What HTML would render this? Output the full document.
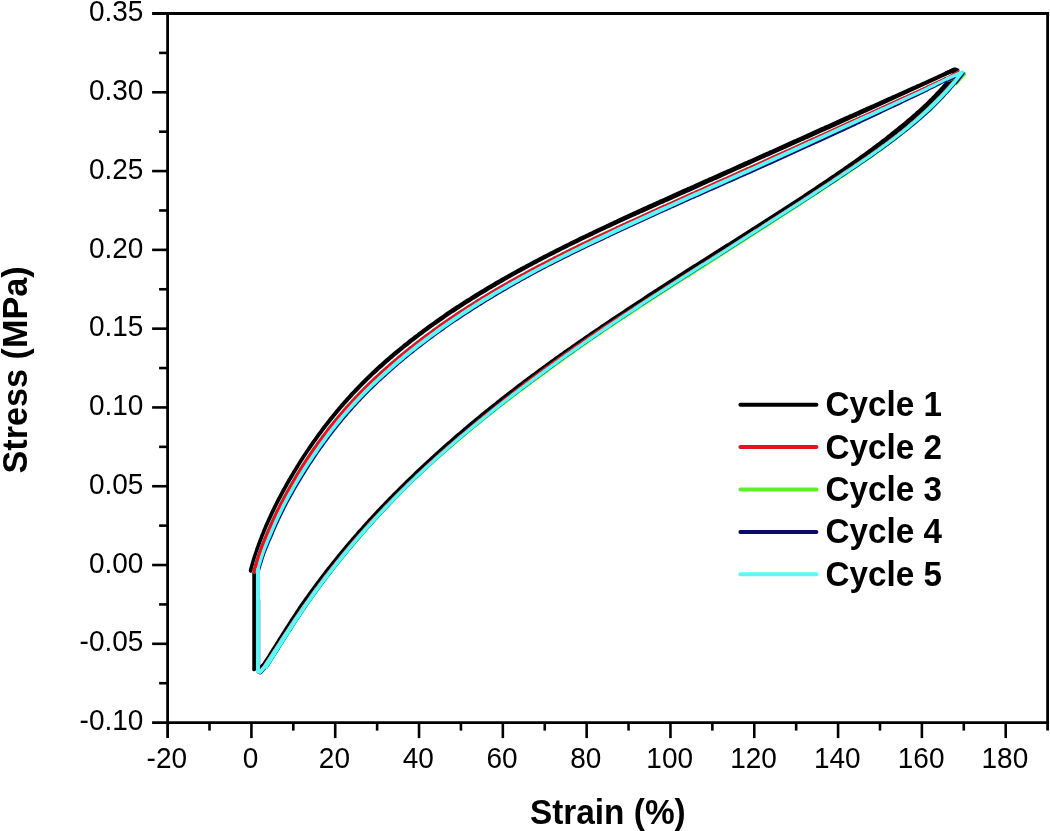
<!DOCTYPE html>
<html lang="en"><head><meta charset="utf-8"><title>Stress-strain cycles</title>
<style>
html,body{margin:0;padding:0;background:#fff;}
body{width:1050px;height:831px;overflow:hidden;}
svg{display:block;filter:blur(0.45px);}
</style></head><body>
<svg width="1050" height="831" viewBox="0 0 1050 831">
<rect width="1050" height="831" fill="#fff"/>
<polygon points="248.6,570.4 249.1,568.7 249.6,566.9 250.1,565.2 250.6,563.5 251.1,561.8 251.6,560.0 252.1,558.3 252.7,556.6 253.2,554.9 253.8,553.2 254.4,551.5 255.0,549.8 255.5,548.1 256.1,546.4 256.7,544.7 257.3,543.0 258.0,541.3 258.6,539.6 259.2,538.0 259.9,536.3 260.5,534.6 261.2,532.9 261.9,531.3 262.5,529.6 263.2,527.9 263.9,526.3 264.6,524.6 265.3,523.0 266.1,521.3 266.8,519.7 267.5,518.0 268.3,516.4 269.0,514.7 269.8,513.1 270.5,511.5 271.3,509.9 272.1,508.2 272.9,506.6 273.7,505.0 274.5,503.4 275.3,501.8 276.1,500.2 276.9,498.6 277.8,497.0 278.6,495.4 279.5,493.8 280.3,492.2 281.2,490.6 282.0,489.0 282.9,487.4 283.8,485.9 284.6,484.3 285.5,482.7 286.4,481.2 287.3,479.6 288.2,478.0 289.1,476.5 290.0,474.9 291.0,473.4 291.9,471.8 292.8,470.3 293.8,468.8 294.7,467.2 295.6,465.7 296.6,464.2 297.6,462.6 298.5,461.1 299.5,459.6 300.5,458.1 301.4,456.6 302.4,455.0 303.4,453.5 304.4,452.0 305.4,450.5 306.4,449.0 307.4,447.5 308.4,446.1 309.4,444.6 310.4,443.1 311.4,441.6 312.5,440.1 313.5,438.7 314.6,437.2 315.6,435.7 316.7,434.3 317.7,432.8 318.8,431.4 319.9,429.9 320.9,428.5 322.0,427.0 323.1,425.6 324.2,424.2 325.3,422.7 326.4,421.3 327.5,419.9 328.6,418.5 329.7,417.1 330.9,415.7 332.0,414.3 333.1,412.9 334.3,411.5 335.4,410.1 336.6,408.7 337.7,407.3 338.9,406.0 340.1,404.6 341.2,403.2 342.4,401.9 343.6,400.5 344.8,399.2 346.0,397.8 347.2,396.5 348.4,395.2 349.6,393.8 350.8,392.5 352.1,391.2 353.3,389.9 354.5,388.6 355.8,387.3 357.0,386.0 358.3,384.7 359.5,383.4 360.8,382.1 362.1,380.8 363.3,379.5 364.6,378.3 365.9,377.0 367.2,375.7 368.5,374.5 369.8,373.2 371.1,372.0 372.4,370.8 373.7,369.5 375.0,368.3 376.4,367.1 377.7,365.8 379.0,364.6 380.4,363.4 381.7,362.2 383.1,361.0 384.4,359.8 385.8,358.6 387.1,357.5 388.5,356.3 389.9,355.1 391.2,353.9 392.6,352.8 394.0,351.6 395.4,350.5 396.8,349.3 398.2,348.2 399.6,347.0 401.0,345.9 402.4,344.7 403.8,343.6 405.2,342.5 406.6,341.4 408.0,340.3 409.4,339.1 410.8,338.0 412.3,336.9 413.7,335.8 415.1,334.7 416.6,333.7 418.0,332.6 419.4,331.5 420.9,330.4 422.3,329.3 423.7,328.3 425.2,327.2 426.6,326.1 428.1,325.1 429.5,324.0 431.0,323.0 432.5,321.9 433.9,320.9 435.4,319.8 436.9,318.8 438.3,317.8 439.8,316.7 441.3,315.7 442.7,314.7 444.2,313.7 445.7,312.6 447.2,311.6 448.7,310.6 450.2,309.6 451.6,308.6 453.1,307.6 454.6,306.6 456.1,305.6 457.6,304.7 459.1,303.7 460.6,302.7 462.1,301.7 463.6,300.8 465.1,299.8 466.7,298.8 468.2,297.9 469.7,296.9 471.2,295.9 472.7,295.0 474.2,294.0 475.8,293.1 477.3,292.2 478.8,291.2 480.3,290.3 481.9,289.4 483.4,288.4 485.0,287.5 486.5,286.6 488.0,285.7 489.6,284.8 491.1,283.9 492.7,283.0 494.2,282.0 495.8,281.1 497.3,280.3 498.9,279.4 500.4,278.5 502.0,277.6 503.5,276.7 505.1,275.8 506.7,274.9 508.2,274.0 509.8,273.2 511.4,272.3 512.9,271.4 514.5,270.6 516.1,269.7 517.6,268.8 519.2,268.0 520.8,267.1 522.4,266.3 524.0,265.4 525.5,264.6 527.1,263.7 528.7,262.9 530.3,262.0 531.9,261.2 533.5,260.3 535.0,259.5 536.6,258.7 538.2,257.8 539.8,257.0 541.4,256.2 543.0,255.3 544.6,254.5 546.2,253.7 547.8,252.9 549.4,252.1 551.0,251.2 552.6,250.4 554.2,249.6 555.8,248.8 557.4,248.0 559.0,247.2 560.6,246.4 562.2,245.6 563.8,244.8 565.4,244.0 567.0,243.2 568.6,242.4 570.2,241.6 571.9,240.8 573.5,240.0 575.1,239.2 576.7,238.4 578.3,237.6 579.9,236.8 581.6,236.0 583.2,235.3 584.8,234.5 586.4,233.7 588.0,232.9 589.7,232.1 591.3,231.4 592.9,230.6 594.5,229.8 596.1,229.0 597.8,228.3 599.4,227.5 601.0,226.7 602.7,226.0 604.3,225.2 605.9,224.4 607.5,223.7 609.2,222.9 610.8,222.1 612.4,221.4 614.0,220.6 615.7,219.9 617.3,219.1 618.9,218.3 620.6,217.6 622.2,216.8 623.8,216.1 625.5,215.3 627.1,214.6 628.7,213.8 630.4,213.1 632.0,212.3 633.6,211.6 635.3,210.8 636.9,210.1 638.5,209.3 640.2,208.6 641.8,207.8 643.4,207.1 645.1,206.3 646.7,205.6 648.4,204.8 650.0,204.1 651.6,203.4 653.3,202.6 654.9,201.9 656.5,201.1 658.2,200.4 659.8,199.6 661.5,198.9 663.1,198.2 664.7,197.4 666.4,196.7 668.0,195.9 669.6,195.2 671.3,194.5 672.9,193.7 674.5,193.0 676.2,192.3 677.8,191.5 679.5,190.8 681.1,190.0 682.7,189.3 684.4,188.6 686.0,187.9 687.7,187.1 689.3,186.4 690.9,185.7 692.6,184.9 694.2,184.2 695.8,183.5 697.5,182.7 699.1,182.0 700.8,181.3 702.4,180.6 704.0,179.8 705.7,179.1 707.3,178.4 708.9,177.6 710.6,176.9 712.2,176.2 713.9,175.5 715.5,174.7 717.1,174.0 718.8,173.3 720.4,172.5 722.0,171.8 723.7,171.1 725.3,170.4 727.0,169.6 728.6,168.9 730.2,168.2 731.9,167.4 733.5,166.7 735.1,166.0 736.8,165.2 738.4,164.5 740.0,163.8 741.7,163.1 743.3,162.3 744.9,161.6 746.6,160.9 748.2,160.1 749.8,159.4 751.5,158.7 753.1,158.0 754.8,157.2 756.4,156.5 758.0,155.8 759.7,155.0 761.3,154.3 762.9,153.6 764.6,152.8 766.2,152.1 767.8,151.4 769.4,150.6 771.1,149.9 772.7,149.2 774.3,148.4 776.0,147.7 777.6,147.0 779.2,146.2 780.9,145.5 782.5,144.8 784.1,144.0 785.8,143.3 787.4,142.6 789.0,141.8 790.7,141.1 792.3,140.3 793.9,139.6 795.6,138.9 797.2,138.1 798.8,137.4 800.4,136.7 802.1,135.9 803.7,135.2 805.3,134.5 807.0,133.7 808.6,133.0 810.2,132.3 811.9,131.5 813.5,130.8 815.1,130.0 816.8,129.3 818.4,128.6 820.0,127.8 821.6,127.1 823.3,126.4 824.9,125.6 826.5,124.9 828.2,124.2 829.8,123.4 831.4,122.7 833.1,121.9 834.7,121.2 836.3,120.5 838.0,119.7 839.6,119.0 841.2,118.3 842.9,117.5 844.5,116.8 846.1,116.1 847.8,115.4 849.4,114.6 851.0,113.9 852.7,113.2 854.3,112.4 856.0,111.7 857.6,111.0 859.2,110.3 860.9,109.5 862.5,108.8 864.1,108.1 865.8,107.3 867.4,106.6 869.0,105.9 870.7,105.1 872.3,104.4 874.0,103.7 875.6,103.0 877.2,102.2 878.9,101.5 880.5,100.8 882.1,100.0 883.8,99.3 885.4,98.6 887.0,97.8 888.7,97.1 890.3,96.4 892.0,95.6 893.6,94.9 895.2,94.2 896.9,93.4 898.5,92.7 900.1,92.0 901.8,91.2 903.4,90.5 905.1,89.8 906.7,89.0 908.3,88.3 910.0,87.6 911.6,86.8 913.3,86.1 914.9,85.4 916.5,84.6 918.2,83.9 919.8,83.2 921.4,82.4 923.1,81.7 924.7,80.9 926.4,80.2 928.0,79.5 929.6,78.7 931.3,78.0 932.9,77.2 934.5,76.5 936.2,75.7 937.8,75.0 939.4,74.2 941.1,73.5 942.7,72.7 944.4,72.0 946.0,71.3 947.6,70.5 949.3,69.8 950.9,69.0 952.5,68.3 954.2,67.5 955.9,71.3 954.3,72.1 952.7,72.8 951.0,73.6 949.4,74.3 947.7,75.1 946.1,75.8 944.5,76.6 942.8,77.3 941.2,78.1 939.5,78.8 937.9,79.6 936.3,80.3 934.6,81.0 933.0,81.8 931.4,82.5 929.7,83.3 928.1,84.0 926.5,84.8 924.8,85.5 923.2,86.3 921.5,87.0 919.9,87.7 918.3,88.5 916.6,89.2 915.0,90.0 913.4,90.7 911.8,91.5 910.1,92.2 908.5,93.0 906.9,93.7 905.2,94.5 903.6,95.2 902.0,96.0 900.3,96.7 898.7,97.5 897.1,98.2 895.4,99.0 893.8,99.7 892.2,100.5 890.5,101.2 888.9,102.0 887.3,102.7 885.7,103.5 884.0,104.2 882.4,104.9 880.8,105.7 879.1,106.4 877.5,107.2 875.9,107.9 874.2,108.7 872.6,109.4 871.0,110.2 869.3,110.9 867.7,111.7 866.1,112.4 864.5,113.1 862.8,113.9 861.2,114.6 859.6,115.4 857.9,116.1 856.3,116.9 854.7,117.6 853.0,118.3 851.4,119.1 849.8,119.8 848.2,120.6 846.5,121.3 844.9,122.1 843.3,122.8 841.6,123.5 840.0,124.3 838.4,125.0 836.7,125.7 835.1,126.5 833.5,127.2 831.8,127.9 830.2,128.7 828.6,129.4 826.9,130.1 825.3,130.9 823.7,131.6 822.0,132.3 820.4,133.1 818.8,133.8 817.1,134.5 815.5,135.3 813.9,136.0 812.2,136.7 810.6,137.4 809.0,138.2 807.3,138.9 805.7,139.6 804.1,140.4 802.4,141.1 800.8,141.8 799.2,142.6 797.5,143.3 795.9,144.0 794.3,144.7 792.6,145.5 791.0,146.2 789.4,146.9 787.7,147.7 786.1,148.4 784.5,149.1 782.8,149.9 781.2,150.6 779.6,151.3 777.9,152.0 776.3,152.8 774.7,153.5 773.0,154.2 771.4,155.0 769.8,155.7 768.1,156.4 766.5,157.1 764.8,157.9 763.2,158.6 761.6,159.3 759.9,160.1 758.3,160.8 756.7,161.5 755.0,162.3 753.4,163.0 751.8,163.7 750.2,164.5 748.5,165.2 746.9,165.9 745.3,166.7 743.6,167.4 742.0,168.1 740.4,168.9 738.7,169.6 737.1,170.3 735.5,171.1 733.8,171.8 732.2,172.6 730.6,173.3 728.9,174.0 727.3,174.8 725.7,175.5 724.0,176.2 722.4,177.0 720.8,177.7 719.1,178.4 717.5,179.2 715.8,179.9 714.2,180.6 712.6,181.4 710.9,182.1 709.3,182.8 707.7,183.6 706.0,184.3 704.4,185.0 702.8,185.8 701.1,186.5 699.5,187.2 697.9,188.0 696.2,188.7 694.6,189.5 693.0,190.2 691.3,190.9 689.7,191.7 688.0,192.4 686.4,193.1 684.8,193.9 683.1,194.6 681.5,195.3 679.9,196.1 678.2,196.8 676.6,197.5 674.9,198.3 673.3,199.0 671.7,199.7 670.0,200.4 668.4,201.2 666.7,201.9 665.1,202.6 663.5,203.4 661.8,204.1 660.2,204.8 658.5,205.6 656.9,206.3 655.3,207.0 653.6,207.8 652.0,208.5 650.3,209.2 648.7,210.0 647.1,210.7 645.4,211.4 643.8,212.2 642.1,212.9 640.5,213.6 638.9,214.4 637.2,215.1 635.6,215.9 634.0,216.6 632.3,217.3 630.7,218.1 629.0,218.8 627.4,219.6 625.8,220.3 624.1,221.0 622.5,221.8 620.9,222.5 619.2,223.3 617.6,224.0 616.0,224.8 614.3,225.5 612.7,226.3 611.1,227.0 609.5,227.8 607.8,228.6 606.2,229.3 604.6,230.1 602.9,230.8 601.3,231.6 599.7,232.3 598.1,233.1 596.4,233.9 594.8,234.6 593.2,235.4 591.6,236.2 590.0,237.0 588.3,237.7 586.7,238.5 585.1,239.3 583.5,240.1 581.9,240.8 580.3,241.6 578.7,242.4 577.0,243.2 575.4,244.0 573.8,244.8 572.2,245.6 570.6,246.3 569.0,247.1 567.4,247.9 565.8,248.7 564.2,249.5 562.6,250.3 561.0,251.1 559.4,251.9 557.8,252.7 556.2,253.5 554.6,254.4 553.0,255.2 551.4,256.0 549.8,256.8 548.2,257.6 546.6,258.4 545.0,259.3 543.4,260.1 541.8,260.9 540.3,261.7 538.7,262.6 537.1,263.4 535.5,264.2 533.9,265.1 532.4,265.9 530.8,266.8 529.2,267.6 527.6,268.5 526.1,269.3 524.5,270.2 522.9,271.0 521.4,271.9 519.8,272.7 518.2,273.6 516.7,274.5 515.1,275.3 513.6,276.2 512.0,277.1 510.4,278.0 508.9,278.8 507.3,279.7 505.8,280.6 504.2,281.5 502.7,282.4 501.1,283.3 499.6,284.2 498.1,285.1 496.5,286.0 495.0,286.9 493.4,287.8 491.9,288.7 490.4,289.6 488.8,290.5 487.3,291.4 485.8,292.4 484.3,293.3 482.7,294.2 481.2,295.1 479.7,296.1 478.2,297.0 476.7,297.9 475.1,298.9 473.6,299.8 472.1,300.8 470.6,301.7 469.1,302.7 467.6,303.6 466.1,304.6 464.6,305.5 463.1,306.5 461.6,307.5 460.1,308.4 458.6,309.4 457.1,310.4 455.6,311.4 454.1,312.4 452.6,313.3 451.2,314.3 449.7,315.3 448.2,316.3 446.7,317.3 445.3,318.3 443.8,319.4 442.3,320.4 440.9,321.4 439.4,322.4 437.9,323.4 436.5,324.5 435.0,325.5 433.6,326.5 432.1,327.6 430.7,328.6 429.2,329.7 427.8,330.7 426.3,331.8 424.9,332.8 423.5,333.9 422.0,335.0 420.6,336.0 419.2,337.1 417.8,338.2 416.3,339.3 414.9,340.4 413.5,341.5 412.1,342.6 410.7,343.7 409.3,344.8 407.9,345.9 406.5,347.0 405.1,348.1 403.7,349.3 402.3,350.4 400.9,351.5 399.5,352.7 398.2,353.8 396.8,354.9 395.4,356.1 394.0,357.2 392.7,358.4 391.3,359.6 390.0,360.7 388.6,361.9 387.3,363.1 385.9,364.3 384.6,365.5 383.3,366.7 381.9,367.9 380.6,369.1 379.3,370.3 378.0,371.5 376.7,372.7 375.3,373.9 374.0,375.1 372.7,376.3 371.5,377.6 370.2,378.8 368.9,380.1 367.6,381.3 366.3,382.6 365.1,383.8 363.8,385.1 362.5,386.3 361.3,387.6 360.0,388.9 358.8,390.2 357.6,391.5 356.3,392.7 355.1,394.0 353.9,395.3 352.7,396.7 351.5,398.0 350.3,399.3 349.1,400.6 347.9,401.9 346.7,403.3 345.5,404.6 344.3,405.9 343.2,407.3 342.0,408.6 340.8,410.0 339.7,411.3 338.5,412.7 337.4,414.1 336.2,415.5 335.1,416.8 334.0,418.2 332.9,419.6 331.7,421.0 330.6,422.4 329.5,423.8 328.4,425.2 327.3,426.6 326.2,428.0 325.1,429.4 324.1,430.8 323.0,432.3 321.9,433.7 320.9,435.1 319.8,436.6 318.7,438.0 317.7,439.4 316.7,440.9 315.6,442.3 314.6,443.8 313.6,445.3 312.5,446.7 311.5,448.2 310.5,449.7 309.5,451.1 308.5,452.6 307.5,454.1 306.5,455.6 305.5,457.1 304.6,458.6 303.6,460.1 302.6,461.6 301.7,463.1 300.7,464.6 299.8,466.1 298.8,467.7 297.9,469.2 297.0,470.7 296.0,472.2 295.1,473.8 294.2,475.3 293.3,476.9 292.4,478.4 291.5,479.9 290.6,481.5 289.7,483.0 288.8,484.6 288.0,486.2 287.1,487.7 286.2,489.3 285.4,490.9 284.5,492.4 283.7,494.0 282.8,495.6 282.0,497.2 281.2,498.7 280.4,500.3 279.5,501.9 278.7,503.5 277.9,505.1 277.1,506.7 276.3,508.3 275.5,509.9 274.8,511.5 274.0,513.1 273.2,514.7 272.5,516.3 271.7,518.0 271.0,519.6 270.2,521.2 269.5,522.8 268.8,524.5 268.0,526.1 267.3,527.7 266.6,529.4 265.9,531.0 265.3,532.7 264.6,534.3 263.9,535.9 263.3,537.6 262.6,539.3 262.0,540.9 261.3,542.6 260.7,544.2 260.1,545.9 259.5,547.6 258.9,549.3 258.3,550.9 257.7,552.6 257.1,554.3 256.6,556.0 256.0,557.7 255.5,559.4 255.0,561.1 254.5,562.8 254.0,564.5 253.5,566.2 253.0,567.9 252.5,569.6 252.0,571.3" fill="#000000"/>
<polygon points="954.8,70.6 953.7,72.0 952.5,73.5 951.4,74.9 950.2,76.3 949.0,77.7 947.9,79.1 946.7,80.5 945.5,81.9 944.3,83.2 943.0,84.6 941.8,85.9 940.6,87.3 939.4,88.6 938.1,90.0 936.9,91.3 935.6,92.6 934.3,93.9 933.1,95.3 931.8,96.6 930.5,97.9 929.2,99.1 927.9,100.4 926.6,101.7 925.3,103.0 924.0,104.2 922.6,105.5 921.3,106.7 919.9,108.0 918.6,109.2 917.2,110.4 915.8,111.6 914.5,112.9 913.1,114.1 911.7,115.3 910.3,116.5 908.9,117.7 907.5,118.8 906.1,120.0 904.7,121.2 903.3,122.4 901.9,123.5 900.4,124.7 899.0,125.8 897.6,127.0 896.2,128.2 894.7,129.3 893.3,130.5 891.9,131.6 890.4,132.8 889.0,133.9 887.5,135.1 886.1,136.2 884.6,137.4 883.2,138.5 881.7,139.6 880.2,140.7 878.8,141.9 877.3,143.0 875.8,144.1 874.3,145.2 872.8,146.3 871.4,147.4 869.9,148.5 868.4,149.6 866.9,150.7 865.4,151.8 863.9,152.9 862.4,154.0 860.9,155.1 859.4,156.1 857.9,157.2 856.3,158.3 854.8,159.4 853.3,160.4 851.8,161.5 850.3,162.6 848.8,163.6 847.2,164.7 845.7,165.8 844.2,166.8 842.7,167.9 841.1,169.0 839.6,170.0 838.1,171.1 836.5,172.1 835.0,173.2 833.5,174.2 831.9,175.3 830.4,176.3 828.9,177.3 827.3,178.4 825.8,179.4 824.3,180.5 822.7,181.5 821.2,182.5 819.6,183.6 818.1,184.6 816.6,185.6 815.0,186.7 813.5,187.7 811.9,188.7 810.4,189.7 808.8,190.8 807.3,191.8 805.8,192.8 804.2,193.8 802.7,194.9 801.1,195.9 799.6,196.9 798.0,197.9 796.5,198.9 794.9,200.0 793.4,201.0 791.8,202.0 790.3,203.0 788.7,204.0 787.2,205.0 785.6,206.1 784.1,207.1 782.5,208.1 781.0,209.1 779.4,210.1 777.9,211.1 776.3,212.1 774.8,213.1 773.2,214.1 771.6,215.1 770.1,216.1 768.5,217.1 767.0,218.1 765.4,219.1 763.8,220.1 762.3,221.1 760.7,222.1 759.2,223.1 757.6,224.1 756.0,225.1 754.5,226.0 752.9,227.0 751.3,228.0 749.8,229.0 748.2,230.0 746.7,231.0 745.1,232.0 743.5,233.0 742.0,234.0 740.4,235.0 738.8,235.9 737.3,236.9 735.7,237.9 734.2,238.9 732.6,239.9 731.0,240.9 729.5,241.9 727.9,242.9 726.3,243.8 724.8,244.8 723.2,245.8 721.6,246.8 720.1,247.8 718.5,248.8 717.0,249.8 715.4,250.8 713.8,251.8 712.3,252.7 710.7,253.7 709.1,254.7 707.6,255.7 706.0,256.7 704.5,257.7 702.9,258.7 701.3,259.7 699.8,260.7 698.2,261.7 696.7,262.7 695.1,263.7 693.5,264.6 692.0,265.6 690.4,266.6 688.9,267.6 687.3,268.6 685.7,269.6 684.2,270.6 682.6,271.6 681.1,272.6 679.5,273.6 677.9,274.6 676.4,275.6 674.8,276.6 673.3,277.6 671.7,278.6 670.2,279.6 668.6,280.6 667.0,281.6 665.5,282.6 663.9,283.6 662.4,284.6 660.8,285.6 659.3,286.6 657.7,287.6 656.2,288.6 654.6,289.6 653.0,290.6 651.5,291.6 649.9,292.6 648.4,293.6 646.8,294.6 645.3,295.6 643.7,296.7 642.2,297.7 640.6,298.7 639.1,299.7 637.5,300.7 636.0,301.7 634.4,302.7 632.9,303.7 631.4,304.8 629.8,305.8 628.3,306.8 626.7,307.8 625.2,308.8 623.6,309.9 622.1,310.9 620.5,311.9 619.0,312.9 617.5,314.0 615.9,315.0 614.4,316.0 612.8,317.1 611.3,318.1 609.8,319.1 608.2,320.2 606.7,321.2 605.2,322.2 603.6,323.3 602.1,324.3 600.5,325.3 599.0,326.4 597.5,327.4 595.9,328.5 594.4,329.5 592.9,330.5 591.3,331.6 589.8,332.6 588.3,333.7 586.7,334.7 585.2,335.8 583.7,336.8 582.2,337.9 580.6,338.9 579.1,340.0 577.6,341.1 576.1,342.1 574.5,343.2 573.0,344.2 571.5,345.3 570.0,346.4 568.4,347.4 566.9,348.5 565.4,349.6 563.9,350.6 562.4,351.7 560.9,352.8 559.3,353.8 557.8,354.9 556.3,356.0 554.8,357.1 553.3,358.2 551.8,359.2 550.3,360.3 548.8,361.4 547.3,362.5 545.8,363.6 544.3,364.7 542.8,365.8 541.2,366.9 539.7,368.0 538.3,369.1 536.8,370.2 535.3,371.3 533.8,372.4 532.3,373.5 530.8,374.6 529.3,375.7 527.8,376.8 526.3,377.9 524.8,379.0 523.4,380.1 521.9,381.3 520.4,382.4 518.9,383.5 517.4,384.6 516.0,385.8 514.5,386.9 513.0,388.0 511.6,389.2 510.1,390.3 508.6,391.4 507.1,392.6 505.7,393.7 504.2,394.8 502.8,396.0 501.3,397.1 499.8,398.3 498.4,399.4 496.9,400.6 495.5,401.7 494.0,402.9 492.6,404.0 491.1,405.2 489.7,406.3 488.2,407.5 486.8,408.7 485.3,409.8 483.9,411.0 482.4,412.2 481.0,413.3 479.6,414.5 478.1,415.7 476.7,416.9 475.3,418.1 473.8,419.2 472.4,420.4 471.0,421.6 469.6,422.8 468.1,424.0 466.7,425.2 465.3,426.4 463.9,427.6 462.5,428.8 461.1,430.0 459.7,431.2 458.3,432.4 456.8,433.6 455.4,434.8 454.0,436.0 452.6,437.2 451.2,438.4 449.9,439.7 448.5,440.9 447.1,442.1 445.7,443.3 444.3,444.6 442.9,445.8 441.5,447.0 440.1,448.2 438.8,449.5 437.4,450.7 436.0,452.0 434.6,453.2 433.3,454.4 431.9,455.7 430.5,456.9 429.2,458.2 427.8,459.4 426.4,460.7 425.1,462.0 423.7,463.2 422.4,464.5 421.0,465.8 419.7,467.0 418.3,468.3 417.0,469.6 415.6,470.8 414.3,472.1 413.0,473.4 411.6,474.7 410.3,475.9 409.0,477.2 407.6,478.5 406.3,479.8 405.0,481.1 403.7,482.4 402.3,483.7 401.0,485.0 399.7,486.3 398.4,487.6 397.1,488.9 395.8,490.2 394.5,491.5 393.2,492.8 391.9,494.1 390.6,495.4 389.3,496.8 388.0,498.1 386.7,499.4 385.4,500.7 384.1,502.1 382.9,503.4 381.6,504.7 380.3,506.1 379.0,507.4 377.8,508.8 376.5,510.1 375.2,511.5 374.0,512.8 372.7,514.2 371.4,515.5 370.2,516.9 368.9,518.2 367.7,519.6 366.5,521.0 365.2,522.3 364.0,523.7 362.7,525.1 361.5,526.5 360.3,527.9 359.0,529.2 357.8,530.6 356.6,532.0 355.4,533.4 354.2,534.8 352.9,536.2 351.7,537.6 350.5,539.0 349.3,540.4 348.1,541.8 346.9,543.2 345.7,544.6 344.5,546.0 343.3,547.5 342.1,548.9 341.0,550.3 339.8,551.7 338.6,553.2 337.4,554.6 336.3,556.0 335.1,557.5 333.9,558.9 332.8,560.4 331.6,561.8 330.5,563.3 329.3,564.7 328.2,566.2 327.0,567.6 325.9,569.1 324.7,570.6 323.6,572.0 322.5,573.5 321.3,575.0 320.2,576.4 319.1,577.9 318.0,579.4 316.8,580.9 315.7,582.4 314.6,583.9 313.5,585.4 312.4,586.9 311.3,588.4 310.2,589.9 309.1,591.4 308.0,592.9 307.0,594.4 305.9,595.9 304.8,597.4 303.7,599.0 302.7,600.5 301.6,602.0 300.5,603.6 299.5,605.1 298.4,606.6 297.4,608.2 296.4,609.8 295.3,611.3 294.3,612.9 293.3,614.4 292.3,616.0 291.3,617.6 290.2,619.1 289.2,620.7 288.2,622.3 287.2,623.9 286.2,625.4 285.2,627.0 284.2,628.6 283.2,630.2 282.2,631.7 281.2,633.3 280.2,634.9 279.2,636.5 278.2,638.1 277.3,639.6 276.3,641.2 275.3,642.8 274.3,644.4 273.3,646.0 272.3,647.5 271.3,649.1 270.3,650.7 269.3,652.2 268.4,653.8 267.4,655.4 266.4,656.9 265.4,658.5 264.4,660.1 263.4,661.6 262.4,663.2 261.4,664.7 263.9,666.4 265.0,664.8 266.0,663.3 267.0,661.7 268.0,660.2 269.0,658.6 270.0,657.0 271.0,655.5 272.0,653.9 273.0,652.4 274.0,650.8 275.0,649.2 276.0,647.7 277.0,646.1 278.0,644.5 279.0,643.0 280.1,641.4 281.1,639.9 282.1,638.3 283.1,636.8 284.1,635.2 285.2,633.6 286.2,632.1 287.2,630.5 288.3,629.0 289.3,627.4 290.3,625.9 291.4,624.3 292.4,622.8 293.4,621.2 294.5,619.7 295.5,618.2 296.6,616.6 297.6,615.1 298.7,613.6 299.7,612.0 300.8,610.5 301.9,609.0 302.9,607.5 304.0,605.9 305.0,604.4 306.1,602.9 307.2,601.4 308.2,599.9 309.3,598.4 310.4,596.9 311.5,595.3 312.5,593.8 313.6,592.3 314.7,590.8 315.8,589.4 316.9,587.9 318.0,586.4 319.1,584.9 320.2,583.4 321.3,581.9 322.4,580.5 323.5,579.0 324.7,577.5 325.8,576.1 326.9,574.6 328.0,573.1 329.2,571.7 330.3,570.2 331.5,568.8 332.6,567.3 333.7,565.9 334.9,564.4 336.0,563.0 337.2,561.6 338.4,560.1 339.5,558.7 340.7,557.3 341.9,555.8 343.0,554.4 344.2,553.0 345.4,551.6 346.6,550.2 347.7,548.7 348.9,547.3 350.1,545.9 351.3,544.5 352.5,543.1 353.7,541.7 354.9,540.3 356.1,538.9 357.3,537.6 358.5,536.2 359.7,534.8 361.0,533.4 362.2,532.0 363.4,530.6 364.6,529.3 365.9,527.9 367.1,526.5 368.3,525.2 369.6,523.8 370.8,522.5 372.1,521.1 373.3,519.7 374.5,518.4 375.8,517.0 377.1,515.7 378.3,514.4 379.6,513.0 380.8,511.7 382.1,510.3 383.4,509.0 384.6,507.7 385.9,506.3 387.2,505.0 388.5,503.7 389.8,502.4 391.0,501.1 392.3,499.7 393.6,498.4 394.9,497.1 396.2,495.8 397.5,494.5 398.8,493.2 400.1,491.9 401.4,490.6 402.7,489.3 404.0,488.0 405.3,486.7 406.7,485.4 408.0,484.1 409.3,482.9 410.6,481.6 411.9,480.3 413.3,479.0 414.6,477.8 415.9,476.5 417.3,475.2 418.6,473.9 419.9,472.7 421.3,471.4 422.6,470.2 424.0,468.9 425.3,467.7 426.7,466.4 428.0,465.2 429.4,463.9 430.8,462.7 432.1,461.4 433.5,460.2 434.8,458.9 436.2,457.7 437.6,456.5 439.0,455.2 440.3,454.0 441.7,452.8 443.1,451.6 444.5,450.3 445.9,449.1 447.2,447.9 448.6,446.7 450.0,445.5 451.4,444.3 452.8,443.1 454.2,441.9 455.6,440.7 457.0,439.4 458.4,438.2 459.8,437.0 461.2,435.9 462.6,434.7 464.0,433.5 465.4,432.3 466.9,431.1 468.3,429.9 469.7,428.7 471.1,427.5 472.5,426.4 474.0,425.2 475.4,424.0 476.8,422.8 478.2,421.7 479.7,420.5 481.1,419.3 482.5,418.2 484.0,417.0 485.4,415.8 486.8,414.7 488.3,413.5 489.7,412.4 491.2,411.2 492.6,410.0 494.1,408.9 495.5,407.7 497.0,406.6 498.4,405.4 499.9,404.3 501.3,403.2 502.8,402.0 504.2,400.9 505.7,399.7 507.1,398.6 508.6,397.5 510.1,396.3 511.5,395.2 513.0,394.1 514.5,392.9 515.9,391.8 517.4,390.7 518.9,389.6 520.4,388.5 521.8,387.3 523.3,386.2 524.8,385.1 526.3,384.0 527.7,382.9 529.2,381.8 530.7,380.7 532.2,379.6 533.7,378.5 535.2,377.4 536.7,376.3 538.1,375.2 539.6,374.1 541.1,373.0 542.6,371.9 544.1,370.8 545.6,369.7 547.1,368.6 548.6,367.5 550.1,366.4 551.6,365.3 553.1,364.2 554.6,363.1 556.1,362.1 557.6,361.0 559.1,359.9 560.6,358.8 562.1,357.7 563.6,356.7 565.1,355.6 566.6,354.5 568.1,353.4 569.7,352.4 571.2,351.3 572.7,350.2 574.2,349.2 575.7,348.1 577.2,347.0 578.7,346.0 580.3,344.9 581.8,343.8 583.3,342.8 584.8,341.7 586.3,340.7 587.9,339.6 589.4,338.6 590.9,337.5 592.4,336.5 594.0,335.4 595.5,334.4 597.0,333.3 598.5,332.3 600.1,331.2 601.6,330.2 603.1,329.2 604.7,328.1 606.2,327.1 607.7,326.1 609.3,325.0 610.8,324.0 612.3,323.0 613.9,321.9 615.4,320.9 617.0,319.9 618.5,318.9 620.0,317.8 621.6,316.8 623.1,315.8 624.7,314.8 626.2,313.7 627.7,312.7 629.3,311.7 630.8,310.7 632.4,309.7 633.9,308.7 635.5,307.7 637.0,306.6 638.6,305.6 640.1,304.6 641.7,303.6 643.2,302.6 644.8,301.6 646.3,300.6 647.8,299.6 649.4,298.6 651.0,297.6 652.5,296.6 654.1,295.6 655.6,294.6 657.2,293.5 658.7,292.5 660.3,291.5 661.8,290.5 663.4,289.5 664.9,288.5 666.5,287.5 668.0,286.5 669.6,285.5 671.1,284.5 672.7,283.5 674.3,282.5 675.8,281.6 677.4,280.6 678.9,279.6 680.5,278.6 682.0,277.6 683.6,276.6 685.2,275.6 686.7,274.6 688.3,273.6 689.8,272.6 691.4,271.6 692.9,270.6 694.5,269.6 696.1,268.6 697.6,267.6 699.2,266.6 700.7,265.7 702.3,264.7 703.9,263.7 705.4,262.7 707.0,261.7 708.6,260.7 710.1,259.7 711.7,258.7 713.2,257.7 714.8,256.7 716.4,255.7 717.9,254.8 719.5,253.8 721.0,252.8 722.6,251.8 724.2,250.8 725.7,249.8 727.3,248.8 728.8,247.8 730.4,246.8 732.0,245.8 733.5,244.8 735.1,243.8 736.6,242.8 738.2,241.8 739.8,240.8 741.3,239.8 742.9,238.8 744.4,237.8 746.0,236.8 747.6,235.9 749.1,234.9 750.7,233.9 752.2,232.9 753.8,231.9 755.3,230.9 756.9,229.9 758.5,228.9 760.0,227.9 761.6,226.9 763.1,225.9 764.7,224.9 766.3,223.9 767.8,222.9 769.4,221.9 770.9,220.8 772.5,219.8 774.0,218.8 775.6,217.8 777.2,216.8 778.7,215.8 780.3,214.8 781.8,213.8 783.4,212.8 784.9,211.8 786.5,210.8 788.1,209.8 789.6,208.8 791.2,207.8 792.7,206.8 794.3,205.8 795.9,204.8 797.4,203.8 799.0,202.8 800.5,201.8 802.1,200.7 803.6,199.7 805.2,198.7 806.8,197.7 808.3,196.7 809.9,195.7 811.4,194.7 813.0,193.7 814.5,192.6 816.1,191.6 817.6,190.6 819.2,189.6 820.7,188.6 822.3,187.5 823.8,186.5 825.4,185.5 826.9,184.5 828.5,183.4 830.0,182.4 831.6,181.4 833.1,180.3 834.7,179.3 836.2,178.3 837.8,177.2 839.3,176.2 840.9,175.2 842.4,174.1 843.9,173.1 845.5,172.0 847.0,171.0 848.6,170.0 850.1,168.9 851.7,167.9 853.2,166.8 854.8,165.8 856.3,164.7 857.8,163.7 859.4,162.6 860.9,161.6 862.5,160.5 864.0,159.5 865.5,158.4 867.0,157.3 868.6,156.3 870.1,155.2 871.6,154.1 873.1,153.0 874.7,152.0 876.2,150.9 877.7,149.8 879.2,148.7 880.7,147.6 882.2,146.5 883.7,145.4 885.2,144.3 886.7,143.2 888.2,142.1 889.7,140.9 891.2,139.8 892.7,138.7 894.1,137.5 895.6,136.4 897.1,135.3 898.6,134.1 900.0,133.0 901.5,131.8 902.9,130.6 904.4,129.5 905.8,128.3 907.2,127.1 908.6,125.9 910.0,124.7 911.5,123.4 912.9,122.2 914.3,121.0 915.7,119.8 917.0,118.5 918.4,117.3 919.8,116.1 921.2,114.8 922.5,113.5 923.9,112.3 925.3,111.0 926.6,109.7 928.0,108.5 929.3,107.2 930.6,105.9 932.0,104.6 933.3,103.3 934.6,102.0 935.9,100.7 937.3,99.4 938.6,98.0 939.9,96.7 941.1,95.4 942.4,94.0 943.7,92.7 945.0,91.3 946.2,89.9 947.5,88.6 948.7,87.2 950.0,85.8 951.2,84.4 952.4,83.0 953.6,81.6 954.8,80.1 956.0,78.7 957.2,77.2 958.4,75.8 959.5,74.3" fill="#000000"/>
<polyline points="946,73.4 955,69.5 957.3,70.2 955.5,73 951.6,79.5" fill="none" stroke="#000000" stroke-width="4.2" stroke-linecap="round" stroke-linejoin="round"/>
<polyline points="250.7,571 251.0,569.8" fill="none" stroke="#000000" stroke-width="3.6" stroke-linecap="round" stroke-linejoin="round"/>
<polyline points="254.1,573 254.1,669.4" fill="none" stroke="#000000" stroke-width="3.7" stroke-linecap="round" stroke-linejoin="round"/>
<polyline points="262.6,664.6 259,668.6" fill="none" stroke="#000000" stroke-width="2.4" stroke-linecap="round" stroke-linejoin="round"/>
<polygon points="252.1,571.3 252.5,569.6 253.0,567.9 253.5,566.2 254.0,564.5 254.5,562.8 255.0,561.1 255.5,559.4 256.1,557.7 256.6,556.0 257.2,554.3 257.7,552.6 258.3,551.0 259.0,549.3 259.6,547.6 260.2,546.0 260.8,544.3 261.5,542.6 262.2,541.0 262.8,539.3 263.5,537.7 264.2,536.1 264.9,534.4 265.6,532.8 266.3,531.1 267.0,529.5 267.7,527.9 268.4,526.2 269.1,524.6 269.8,523.0 270.6,521.4 271.3,519.7 272.1,518.1 272.8,516.5 273.6,514.9 274.4,513.3 275.1,511.7 275.9,510.1 276.7,508.5 277.5,506.9 278.3,505.3 279.1,503.7 280.0,502.1 280.8,500.6 281.6,499.0 282.4,497.4 283.3,495.8 284.1,494.2 285.0,492.7 285.8,491.1 286.7,489.5 287.6,488.0 288.4,486.4 289.3,484.9 290.2,483.3 291.1,481.8 292.0,480.2 292.9,478.7 293.8,477.1 294.7,475.6 295.6,474.1 296.5,472.5 297.5,471.0 298.4,469.5 299.3,468.0 300.3,466.5 301.2,464.9 302.2,463.4 303.2,461.9 304.1,460.4 305.1,458.9 306.1,457.5 307.1,456.0 308.1,454.5 309.1,453.0 310.1,451.5 311.1,450.1 312.1,448.6 313.1,447.1 314.2,445.7 315.2,444.2 316.2,442.8 317.3,441.3 318.3,439.9 319.4,438.5 320.5,437.0 321.5,435.6 322.6,434.2 323.7,432.8 324.8,431.4 325.8,429.9 326.9,428.5 328.0,427.1 329.1,425.7 330.2,424.3 331.4,423.0 332.5,421.6 333.6,420.2 334.7,418.8 335.9,417.4 337.0,416.1 338.2,414.7 339.3,413.4 340.5,412.0 341.6,410.7 342.8,409.3 344.0,408.0 345.1,406.6 346.3,405.3 347.5,404.0 348.7,402.7 349.9,401.4 351.1,400.0 352.3,398.7 353.5,397.4 354.7,396.1 356.0,394.9 357.2,393.6 358.4,392.3 359.7,391.0 360.9,389.7 362.2,388.5 363.4,387.2 364.7,386.0 366.0,384.7 367.2,383.5 368.5,382.2 369.8,381.0 371.1,379.8 372.4,378.5 373.7,377.3 375.0,376.1 376.3,374.9 377.6,373.7 378.9,372.5 380.2,371.3 381.6,370.1 382.9,368.9 384.2,367.7 385.6,366.5 386.9,365.4 388.2,364.2 389.6,363.0 390.9,361.8 392.3,360.7 393.6,359.5 395.0,358.4 396.4,357.2 397.7,356.1 399.1,354.9 400.5,353.8 401.9,352.7 403.2,351.5 404.6,350.4 406.0,349.3 407.4,348.2 408.8,347.1 410.2,346.0 411.6,344.9 413.0,343.8 414.4,342.7 415.8,341.6 417.3,340.5 418.7,339.4 420.1,338.3 421.5,337.3 422.9,336.2 424.4,335.1 425.8,334.0 427.2,333.0 428.7,331.9 430.1,330.9 431.6,329.8 433.0,328.8 434.4,327.7 435.9,326.7 437.3,325.7 438.8,324.6 440.2,323.6 441.7,322.6 443.2,321.6 444.6,320.6 446.1,319.6 447.6,318.6 449.0,317.5 450.5,316.5 452.0,315.6 453.5,314.6 454.9,313.6 456.4,312.6 457.9,311.6 459.4,310.6 460.9,309.6 462.4,308.7 463.9,307.7 465.4,306.7 466.9,305.8 468.4,304.8 469.9,303.9 471.4,302.9 472.9,302.0 474.4,301.0 475.9,300.1 477.4,299.1 478.9,298.2 480.4,297.3 481.9,296.3 483.5,295.4 485.0,294.5 486.5,293.6 488.0,292.7 489.6,291.7 491.1,290.8 492.6,289.9 494.2,289.0 495.7,288.1 497.2,287.2 498.8,286.3 500.3,285.4 501.9,284.6 503.4,283.7 505.0,282.8 506.5,281.9 508.1,281.0 509.6,280.1 511.2,279.3 512.7,278.4 514.3,277.5 515.8,276.7 517.4,275.8 519.0,274.9 520.5,274.1 522.1,273.2 523.7,272.4 525.2,271.5 526.8,270.7 528.4,269.8 530.0,269.0 531.5,268.1 533.1,267.3 534.7,266.5 536.3,265.6 537.8,264.8 539.4,264.0 541.0,263.2 542.6,262.3 544.2,261.5 545.8,260.7 547.3,259.9 548.9,259.0 550.5,258.2 552.1,257.4 553.7,256.6 555.3,255.8 556.9,255.0 558.5,254.2 560.1,253.4 561.7,252.5 563.3,251.7 564.9,250.9 566.5,250.1 568.1,249.4 569.7,248.6 571.3,247.8 572.9,247.0 574.5,246.2 576.1,245.4 577.7,244.6 579.3,243.8 581.0,243.0 582.6,242.3 584.2,241.5 585.8,240.7 587.4,239.9 589.0,239.1 590.6,238.4 592.3,237.6 593.9,236.8 595.5,236.1 597.1,235.3 598.7,234.5 600.4,233.7 602.0,233.0 603.6,232.2 605.2,231.5 606.9,230.7 608.5,229.9 610.1,229.2 611.7,228.4 613.4,227.7 615.0,226.9 616.6,226.1 618.2,225.4 619.9,224.6 621.5,223.9 623.1,223.1 624.8,222.4 626.4,221.6 628.0,220.9 629.7,220.1 631.3,219.4 632.9,218.7 634.6,217.9 636.2,217.2 637.8,216.4 639.5,215.7 641.1,214.9 642.7,214.2 644.4,213.5 646.0,212.7 647.6,212.0 649.3,211.2 650.9,210.5 652.5,209.8 654.2,209.0 655.8,208.3 657.5,207.5 659.1,206.8 660.7,206.1 662.4,205.3 664.0,204.6 665.6,203.9 667.3,203.1 668.9,202.4 670.6,201.7 672.2,200.9 673.8,200.2 675.5,199.5 677.1,198.7 678.8,198.0 680.4,197.3 682.0,196.5 683.7,195.8 685.3,195.1 686.9,194.3 688.6,193.6 690.2,192.8 691.8,192.1 693.5,191.4 695.1,190.6 696.8,189.9 698.4,189.2 700.0,188.4 701.7,187.7 703.3,187.0 704.9,186.2 706.6,185.5 708.2,184.7 709.8,184.0 711.5,183.3 713.1,182.5 714.7,181.8 716.4,181.1 718.0,180.3 719.6,179.6 721.3,178.9 722.9,178.1 724.5,177.4 726.2,176.7 727.8,175.9 729.4,175.2 731.1,174.4 732.7,173.7 734.3,173.0 736.0,172.2 737.6,171.5 739.2,170.8 740.9,170.0 742.5,169.3 744.1,168.6 745.8,167.8 747.4,167.1 749.0,166.4 750.7,165.6 752.3,164.9 753.9,164.1 755.6,163.4 757.2,162.7 758.8,161.9 760.5,161.2 762.1,160.5 763.7,159.7 765.3,159.0 767.0,158.3 768.6,157.5 770.2,156.8 771.9,156.0 773.5,155.3 775.1,154.6 776.8,153.8 778.4,153.1 780.0,152.4 781.7,151.6 783.3,150.9 784.9,150.1 786.5,149.4 788.2,148.7 789.8,147.9 791.4,147.2 793.1,146.5 794.7,145.7 796.3,145.0 798.0,144.2 799.6,143.5 801.2,142.8 802.8,142.0 804.5,141.3 806.1,140.5 807.7,139.8 809.4,139.1 811.0,138.3 812.6,137.6 814.3,136.9 815.9,136.1 817.5,135.4 819.1,134.6 820.8,133.9 822.4,133.2 824.0,132.4 825.7,131.7 827.3,130.9 828.9,130.2 830.6,129.5 832.2,128.7 833.8,128.0 835.5,127.2 837.1,126.5 838.7,125.8 840.3,125.0 842.0,124.3 843.6,123.5 845.2,122.8 846.9,122.1 848.5,121.3 850.1,120.6 851.8,119.8 853.4,119.1 855.0,118.4 856.7,117.6 858.3,116.9 859.9,116.1 861.5,115.4 863.2,114.7 864.8,113.9 866.4,113.2 868.1,112.4 869.7,111.7 871.3,111.0 873.0,110.2 874.6,109.5 876.2,108.7 877.9,108.0 879.5,107.3 881.1,106.5 882.8,105.8 884.4,105.0 886.0,104.3 887.7,103.5 889.3,102.8 890.9,102.1 892.6,101.3 894.2,100.6 895.8,99.8 897.5,99.1 899.1,98.3 900.7,97.6 902.4,96.8 904.0,96.1 905.6,95.4 907.3,94.6 908.9,93.9 910.5,93.1 912.2,92.4 913.8,91.6 915.4,90.9 917.1,90.1 918.7,89.4 920.3,88.6 922.0,87.9 923.6,87.1 925.2,86.4 926.8,85.6 928.5,84.8 930.1,84.1 931.7,83.3 933.3,82.5 935.0,81.8 936.6,81.0 938.2,80.2 939.8,79.5 941.5,78.7 943.1,77.9 944.7,77.1 946.4,76.4 947.4,78.6 945.7,79.4 944.1,80.1 942.5,80.9 940.9,81.7 939.3,82.5 937.6,83.3 936.0,84.1 934.4,84.9 932.8,85.6 931.2,86.4 929.5,87.2 927.9,88.0 926.3,88.8 924.7,89.6 923.1,90.3 921.4,91.1 919.8,91.9 918.2,92.6 916.5,93.4 914.9,94.1 913.3,94.8 911.6,95.6 910.0,96.3 908.4,97.1 906.7,97.8 905.1,98.6 903.5,99.3 901.8,100.1 900.2,100.8 898.6,101.6 896.9,102.3 895.3,103.1 893.7,103.8 892.1,104.5 890.4,105.3 888.8,106.0 887.2,106.8 885.5,107.5 883.9,108.3 882.3,109.0 880.6,109.8 879.0,110.5 877.4,111.2 875.7,112.0 874.1,112.7 872.5,113.5 870.8,114.2 869.2,115.0 867.6,115.7 865.9,116.4 864.3,117.2 862.7,117.9 861.1,118.7 859.4,119.4 857.8,120.2 856.2,120.9 854.5,121.6 852.9,122.4 851.3,123.1 849.6,123.9 848.0,124.6 846.4,125.4 844.8,126.1 843.1,126.8 841.5,127.6 839.9,128.3 838.2,129.1 836.6,129.8 835.0,130.6 833.4,131.3 831.7,132.1 830.1,132.8 828.5,133.6 826.9,134.3 825.2,135.1 823.6,135.8 822.0,136.5 820.3,137.3 818.7,138.0 817.1,138.8 815.5,139.5 813.8,140.3 812.2,141.0 810.6,141.8 809.0,142.5 807.3,143.3 805.7,144.0 804.1,144.8 802.4,145.5 800.8,146.2 799.2,147.0 797.6,147.7 795.9,148.5 794.3,149.2 792.7,150.0 791.1,150.7 789.4,151.5 787.8,152.2 786.2,153.0 784.6,153.7 782.9,154.4 781.3,155.2 779.7,155.9 778.0,156.7 776.4,157.4 774.8,158.2 773.2,158.9 771.5,159.7 769.9,160.4 768.3,161.2 766.7,161.9 765.0,162.6 763.4,163.4 761.8,164.1 760.1,164.9 758.5,165.6 756.9,166.3 755.2,167.1 753.6,167.8 752.0,168.5 750.3,169.3 748.7,170.0 747.1,170.7 745.4,171.5 743.8,172.2 742.2,172.9 740.5,173.7 738.9,174.4 737.3,175.1 735.6,175.9 734.0,176.6 732.4,177.3 730.7,178.1 729.1,178.8 727.5,179.5 725.8,180.3 724.2,181.0 722.6,181.7 720.9,182.5 719.3,183.2 717.7,183.9 716.0,184.7 714.4,185.4 712.7,186.1 711.1,186.9 709.5,187.6 707.8,188.3 706.2,189.1 704.6,189.8 702.9,190.5 701.3,191.3 699.7,192.0 698.0,192.7 696.4,193.5 694.8,194.2 693.1,194.9 691.5,195.7 689.8,196.4 688.2,197.2 686.6,197.9 684.9,198.6 683.3,199.4 681.7,200.1 680.0,200.8 678.4,201.6 676.8,202.3 675.1,203.1 673.5,203.8 671.8,204.5 670.2,205.3 668.6,206.0 666.9,206.7 665.3,207.5 663.7,208.2 662.0,209.0 660.4,209.7 658.8,210.5 657.1,211.2 655.5,211.9 653.9,212.7 652.2,213.4 650.6,214.2 649.0,214.9 647.3,215.7 645.7,216.4 644.1,217.1 642.4,217.9 640.8,218.6 639.2,219.4 637.5,220.1 635.9,220.9 634.3,221.6 632.7,222.4 631.0,223.1 629.4,223.9 627.8,224.6 626.1,225.4 624.5,226.2 622.9,226.9 621.3,227.7 619.6,228.4 618.0,229.2 616.4,229.9 614.8,230.7 613.1,231.5 611.5,232.2 609.9,233.0 608.3,233.8 606.7,234.5 605.0,235.3 603.4,236.1 601.8,236.8 600.2,237.6 598.6,238.4 597.0,239.1 595.3,239.9 593.7,240.7 592.1,241.5 590.5,242.2 588.9,243.0 587.3,243.8 585.7,244.6 584.1,245.4 582.5,246.2 580.9,246.9 579.3,247.7 577.7,248.5 576.1,249.3 574.5,250.1 572.9,250.9 571.3,251.7 569.7,252.5 568.1,253.3 566.5,254.1 564.9,254.9 563.3,255.7 561.7,256.5 560.1,257.3 558.5,258.1 556.9,258.9 555.3,259.8 553.7,260.6 552.2,261.4 550.6,262.2 549.0,263.0 547.4,263.9 545.8,264.7 544.3,265.5 542.7,266.3 541.1,267.2 539.5,268.0 537.9,268.8 536.4,269.7 534.8,270.5 533.2,271.3 531.7,272.2 530.1,273.0 528.5,273.8 527.0,274.7 525.4,275.5 523.8,276.4 522.3,277.2 520.7,278.1 519.2,279.0 517.6,279.8 516.0,280.7 514.5,281.5 512.9,282.4 511.4,283.3 509.8,284.2 508.3,285.0 506.8,285.9 505.2,286.8 503.7,287.7 502.1,288.6 500.6,289.4 499.1,290.3 497.5,291.2 496.0,292.1 494.5,293.0 492.9,293.9 491.4,294.8 489.9,295.7 488.4,296.7 486.9,297.6 485.3,298.5 483.8,299.4 482.3,300.3 480.8,301.3 479.3,302.2 477.8,303.2 476.3,304.1 474.8,305.1 473.3,306.0 471.8,307.0 470.3,307.9 468.8,308.9 467.4,309.8 465.9,310.8 464.4,311.8 462.9,312.7 461.4,313.7 460.0,314.7 458.5,315.7 457.0,316.7 455.5,317.7 454.1,318.7 452.6,319.7 451.2,320.7 449.7,321.7 448.2,322.7 446.8,323.7 445.3,324.7 443.9,325.7 442.4,326.7 441.0,327.8 439.6,328.8 438.1,329.8 436.7,330.9 435.2,331.9 433.8,333.0 432.4,334.0 431.0,335.1 429.5,336.1 428.1,337.2 426.7,338.2 425.3,339.3 423.9,340.4 422.5,341.4 421.1,342.5 419.6,343.6 418.2,344.7 416.8,345.8 415.4,346.9 414.1,348.0 412.7,349.1 411.3,350.2 409.9,351.3 408.5,352.4 407.1,353.5 405.8,354.6 404.4,355.8 403.0,356.9 401.7,358.0 400.3,359.2 399.0,360.3 397.6,361.4 396.3,362.6 394.9,363.7 393.6,364.9 392.2,366.1 390.9,367.2 389.6,368.4 388.3,369.6 387.0,370.8 385.6,372.0 384.3,373.1 383.0,374.3 381.7,375.5 380.4,376.7 379.1,377.9 377.8,379.1 376.5,380.3 375.2,381.5 373.9,382.7 372.7,383.9 371.4,385.1 370.1,386.4 368.9,387.6 367.6,388.8 366.4,390.1 365.1,391.3 363.9,392.6 362.6,393.8 361.4,395.1 360.2,396.4 359.0,397.7 357.8,398.9 356.5,400.2 355.3,401.5 354.1,402.8 353.0,404.1 351.8,405.4 350.6,406.7 349.4,408.0 348.2,409.3 347.1,410.7 345.9,412.0 344.8,413.3 343.6,414.7 342.5,416.0 341.4,417.4 340.2,418.7 339.1,420.1 338.0,421.5 336.9,422.8 335.8,424.2 334.7,425.6 333.6,427.0 332.5,428.4 331.4,429.8 330.3,431.2 329.3,432.6 328.2,434.0 327.1,435.4 326.1,436.8 325.0,438.2 324.0,439.6 323.0,441.1 321.9,442.5 320.9,443.9 319.9,445.4 318.9,446.8 317.8,448.2 316.8,449.7 315.8,451.1 314.8,452.6 313.8,454.1 312.8,455.5 311.9,457.0 310.9,458.5 309.9,460.0 309.0,461.4 308.0,462.9 307.0,464.4 306.1,465.9 305.1,467.4 304.2,468.9 303.2,470.4 302.3,471.9 301.4,473.4 300.4,474.9 299.5,476.4 298.6,477.9 297.7,479.4 296.8,481.0 295.9,482.5 295.0,484.0 294.1,485.5 293.2,487.1 292.3,488.6 291.5,490.2 290.6,491.7 289.7,493.2 288.9,494.8 288.0,496.3 287.2,497.9 286.4,499.5 285.5,501.0 284.7,502.6 283.9,504.1 283.1,505.7 282.3,507.3 281.5,508.9 280.7,510.5 280.0,512.1 279.2,513.6 278.4,515.2 277.7,516.8 276.9,518.4 276.2,520.0 275.5,521.6 274.8,523.2 274.1,524.9 273.3,526.5 272.7,528.1 272.0,529.7 271.3,531.3 270.6,532.9 269.9,534.6 269.2,536.2 268.5,537.8 267.9,539.4 267.2,541.0 266.5,542.7 265.9,544.3 265.3,545.9 264.6,547.6 264.0,549.2 263.4,550.8 262.8,552.5 262.2,554.1 261.7,555.8 261.2,557.5 260.7,559.2 260.2,560.8 259.7,562.5 259.2,564.2 258.7,565.9 258.3,567.6 257.8,569.3 257.4,571.0 257.0,572.6" fill="#e3141c"/>
<polyline points="254.7,572.4 254.8,570.5" fill="none" stroke="#e3141c" stroke-width="3.5" stroke-linecap="round" stroke-linejoin="round"/>
<polygon points="952.5,80.6 951.3,82.0 950.0,83.4 948.8,84.8 947.6,86.2 946.4,87.6 945.1,88.9 943.9,90.3 942.6,91.7 941.3,93.0 940.1,94.3 938.8,95.7 937.5,97.0 936.2,98.3 934.9,99.6 933.6,100.9 932.3,102.2 930.9,103.5 929.6,104.8 928.3,106.1 926.9,107.4 925.6,108.6 924.2,109.9 922.9,111.2 921.5,112.4 920.2,113.7 918.8,114.9 917.4,116.2 916.0,117.4 914.7,118.6 913.3,119.9 911.9,121.1 910.5,122.3 909.1,123.5 907.7,124.7 906.2,125.9 904.8,127.1 903.4,128.3 902.0,129.5 900.5,130.6 899.1,131.8 897.6,132.9 896.1,134.1 894.7,135.2 893.2,136.3 891.7,137.5 890.2,138.6 888.7,139.7 887.3,140.8 885.8,141.9 884.3,143.0 882.8,144.1 881.3,145.2 879.8,146.3 878.2,147.4 876.7,148.5 875.2,149.6 873.7,150.6 872.2,151.7 870.7,152.8 869.1,153.9 867.6,154.9 866.1,156.0 864.6,157.0 863.0,158.1 861.5,159.2 860.0,160.2 858.4,161.3 856.9,162.3 855.3,163.3 853.8,164.4 852.2,165.4 850.7,166.5 849.2,167.5 847.6,168.5 846.1,169.6 844.5,170.6 843.0,171.6 841.4,172.7 839.9,173.7 838.3,174.7 836.8,175.8 835.2,176.8 833.7,177.8 832.2,178.9 830.6,179.9 829.1,181.0 827.5,182.0 826.0,183.0 824.4,184.0 822.9,185.1 821.3,186.1 819.8,187.1 818.2,188.2 816.7,189.2 815.1,190.2 813.6,191.2 812.0,192.2 810.5,193.3 808.9,194.3 807.4,195.3 805.8,196.3 804.3,197.3 802.7,198.3 801.2,199.4 799.6,200.4 798.1,201.4 796.5,202.4 795.0,203.4 793.4,204.4 791.8,205.4 790.3,206.4 788.7,207.4 787.2,208.4 785.6,209.4 784.1,210.5 782.5,211.5 781.0,212.5 779.4,213.5 777.8,214.5 776.3,215.5 774.7,216.5 773.2,217.5 771.6,218.5 770.1,219.5 768.5,220.5 766.9,221.5 765.4,222.5 763.8,223.5 762.3,224.5 760.7,225.5 759.2,226.5 757.6,227.5 756.0,228.5 754.5,229.5 752.9,230.5 751.4,231.5 749.8,232.5 748.2,233.5 746.7,234.5 745.1,235.5 743.6,236.5 742.0,237.5 740.4,238.5 738.9,239.4 737.3,240.4 735.8,241.4 734.2,242.4 732.6,243.4 731.1,244.4 729.5,245.4 728.0,246.4 726.4,247.4 724.8,248.4 723.3,249.4 721.7,250.4 720.2,251.4 718.6,252.4 717.0,253.3 715.5,254.3 713.9,255.3 712.3,256.3 710.8,257.3 709.2,258.3 707.7,259.3 706.1,260.3 704.5,261.3 703.0,262.2 701.4,263.2 699.8,264.2 698.3,265.2 696.7,266.2 695.2,267.2 693.6,268.2 692.0,269.2 690.5,270.2 688.9,271.2 687.4,272.1 685.8,273.1 684.2,274.1 682.7,275.1 681.1,276.1 679.6,277.1 678.0,278.1 676.4,279.1 674.9,280.1 673.3,281.1 671.8,282.1 670.2,283.1 668.6,284.1 667.1,285.1 665.5,286.1 664.0,287.1 662.4,288.1 660.9,289.1 659.3,290.1 657.7,291.0 656.2,292.0 654.6,293.0 653.0,294.0 651.5,295.0 649.9,296.0 648.4,297.0 646.8,298.0 645.2,299.0 643.7,300.0 642.1,300.9 640.6,301.9 639.0,302.9 637.4,303.9 635.9,304.9 634.3,305.9 632.8,306.9 631.2,307.9 629.7,308.9 628.1,309.9 626.6,310.9 625.0,311.9 623.4,312.9 621.9,314.0 620.3,315.0 618.8,316.0 617.2,317.0 615.7,318.0 614.1,319.0 612.6,320.0 611.0,321.0 609.5,322.0 607.9,323.1 606.4,324.1 604.9,325.1 603.3,326.1 601.8,327.1 600.2,328.2 598.7,329.2 597.2,330.2 595.6,331.3 594.1,332.3 592.6,333.4 591.0,334.4 589.5,335.5 588.0,336.5 586.5,337.6 584.9,338.6 583.4,339.7 581.9,340.8 580.4,341.8 578.8,342.9 577.3,343.9 575.8,345.0 574.3,346.1 572.8,347.1 571.2,348.2 569.7,349.3 568.2,350.3 566.7,351.4 565.2,352.5 563.7,353.5 562.2,354.6 560.7,355.7 559.1,356.8 557.6,357.8 556.1,358.9 554.6,360.0 553.1,361.1 551.6,362.2 550.1,363.3 548.6,364.4 547.1,365.5 545.6,366.5 544.1,367.6 542.6,368.7 541.1,369.8 539.6,370.9 538.2,372.0 536.7,373.2 535.2,374.3 533.7,375.4 532.2,376.5 530.8,377.6 529.3,378.8 527.8,379.9 526.3,381.0 524.9,382.1 523.4,383.3 521.9,384.4 520.5,385.5 519.0,386.7 517.5,387.8 516.1,388.9 514.6,390.1 513.1,391.2 511.7,392.4 510.2,393.5 508.8,394.7 507.3,395.8 505.9,397.0 504.4,398.1 503.0,399.3 501.5,400.4 500.1,401.6 498.6,402.7 497.2,403.9 495.7,405.1 494.3,406.2 492.9,407.4 491.4,408.6 490.0,409.7 488.6,410.9 487.1,412.1 485.7,413.3 484.3,414.4 482.8,415.6 481.4,416.8 480.0,418.0 478.6,419.1 477.1,420.3 475.7,421.5 474.3,422.7 472.8,423.8 471.4,425.0 470.0,426.2 468.6,427.4 467.2,428.6 465.7,429.8 464.3,431.0 462.9,432.2 461.5,433.4 460.1,434.5 458.7,435.7 457.3,436.9 455.9,438.2 454.5,439.4 453.1,440.6 451.7,441.8 450.3,443.0 448.9,444.2 447.5,445.4 446.1,446.6 444.7,447.9 443.4,449.1 442.0,450.3 440.6,451.5 439.2,452.8 437.8,454.0 436.5,455.2 435.1,456.5 433.7,457.7 432.4,458.9 431.0,460.2 429.6,461.4 428.3,462.7 426.9,463.9 425.6,465.2 424.2,466.4 422.8,467.7 421.5,469.0 420.2,470.2 418.8,471.5 417.5,472.7 416.1,474.0 414.8,475.3 413.5,476.6 412.1,477.8 410.8,479.1 409.5,480.4 408.1,481.7 406.8,483.0 405.5,484.2 404.2,485.5 402.9,486.8 401.5,488.1 400.2,489.4 398.9,490.7 397.6,492.0 396.3,493.3 395.0,494.6 393.7,495.9 392.4,497.3 391.1,498.6 389.8,499.9 388.5,501.2 387.3,502.5 386.0,503.9 384.7,505.2 383.4,506.5 382.2,507.8 380.9,509.2 379.6,510.5 378.3,511.9 377.1,513.2 375.8,514.5 374.6,515.9 373.3,517.2 372.1,518.6 370.8,520.0 369.6,521.3 368.3,522.7 367.1,524.0 365.8,525.4 364.6,526.8 363.4,528.1 362.1,529.5 360.9,530.9 359.7,532.3 358.5,533.7 357.3,535.1 356.1,536.5 354.8,537.8 353.6,539.2 352.4,540.6 351.2,542.0 350.0,543.5 348.9,544.9 347.7,546.3 346.5,547.7 345.3,549.1 344.1,550.5 342.9,551.9 341.8,553.4 340.6,554.8 339.4,556.2 338.3,557.7 337.1,559.1 335.9,560.5 334.8,562.0 333.6,563.4 332.5,564.9 331.3,566.3 330.2,567.8 329.1,569.2 327.9,570.7 326.8,572.2 325.7,573.6 324.5,575.1 323.4,576.6 322.3,578.0 321.2,579.5 320.1,581.0 319.0,582.5 317.9,584.0 316.8,585.5 315.7,586.9 314.6,588.4 313.5,589.9 312.4,591.4 311.3,592.9 310.2,594.5 309.1,596.0 308.1,597.5 307.0,599.0 305.9,600.5 304.9,602.0 303.8,603.6 302.7,605.1 301.7,606.6 300.6,608.2 299.6,609.7 298.5,611.2 297.5,612.8 296.4,614.3 295.4,615.8 294.3,617.4 293.3,618.9 292.3,620.5 291.2,622.0 290.2,623.6 289.2,625.1 288.2,626.7 287.1,628.3 286.1,629.8 285.1,631.4 284.1,632.9 283.1,634.5 282.1,636.1 281.0,637.6 280.0,639.2 279.0,640.8 278.0,642.3 277.0,643.9 276.0,645.5 275.0,647.0 274.0,648.6 273.0,650.1 272.0,651.7 271.0,653.3 270.0,654.8 269.0,656.4 268.0,658.0 267.0,659.5 266.0,661.1 264.9,662.6 263.9,664.2 262.9,665.7 263.6,666.2 264.6,664.6 265.6,663.1 266.6,661.5 267.6,659.9 268.6,658.4 269.6,656.8 270.6,655.3 271.6,653.7 272.6,652.1 273.7,650.6 274.7,649.0 275.7,647.5 276.7,645.9 277.7,644.3 278.7,642.8 279.7,641.2 280.7,639.6 281.7,638.1 282.7,636.5 283.8,635.0 284.8,633.4 285.8,631.8 286.8,630.3 287.8,628.7 288.9,627.2 289.9,625.6 290.9,624.1 292.0,622.5 293.0,621.0 294.0,619.4 295.1,617.9 296.1,616.3 297.2,614.8 298.2,613.2 299.3,611.7 300.3,610.2 301.4,608.7 302.4,607.1 303.5,605.6 304.5,604.1 305.6,602.6 306.7,601.0 307.7,599.5 308.8,598.0 309.9,596.5 311.0,595.0 312.1,593.5 313.1,592.0 314.2,590.5 315.3,589.0 316.4,587.5 317.5,586.0 318.6,584.5 319.7,583.1 320.8,581.6 322.0,580.1 323.1,578.6 324.2,577.2 325.3,575.7 326.4,574.2 327.6,572.8 328.7,571.3 329.8,569.8 331.0,568.4 332.1,566.9 333.3,565.5 334.4,564.1 335.6,562.6 336.7,561.2 337.9,559.7 339.1,558.3 340.2,556.9 341.4,555.5 342.6,554.0 343.7,552.6 344.9,551.2 346.1,549.8 347.3,548.4 348.5,547.0 349.7,545.5 350.9,544.1 352.0,542.7 353.2,541.3 354.5,539.9 355.7,538.6 356.9,537.2 358.1,535.8 359.3,534.4 360.5,533.0 361.7,531.6 363.0,530.2 364.2,528.9 365.4,527.5 366.6,526.1 367.9,524.8 369.1,523.4 370.4,522.0 371.6,520.7 372.9,519.3 374.1,518.0 375.4,516.6 376.6,515.3 377.9,513.9 379.1,512.6 380.4,511.3 381.7,509.9 382.9,508.6 384.2,507.3 385.5,505.9 386.8,504.6 388.0,503.3 389.3,502.0 390.6,500.6 391.9,499.3 393.2,498.0 394.5,496.7 395.8,495.4 397.1,494.1 398.4,492.8 399.7,491.5 401.0,490.2 402.3,488.9 403.6,487.6 404.9,486.3 406.2,485.0 407.6,483.7 408.9,482.4 410.2,481.2 411.5,479.9 412.9,478.6 414.2,477.3 415.5,476.0 416.8,474.8 418.2,473.5 419.5,472.2 420.9,471.0 422.2,469.7 423.6,468.5 424.9,467.2 426.3,466.0 427.6,464.7 429.0,463.5 430.3,462.2 431.7,461.0 433.1,459.7 434.4,458.5 435.8,457.3 437.2,456.0 438.6,454.8 439.9,453.6 441.3,452.3 442.7,451.1 444.1,449.9 445.5,448.7 446.8,447.5 448.2,446.2 449.6,445.0 451.0,443.8 452.4,442.6 453.8,441.4 455.2,440.2 456.6,439.0 458.0,437.8 459.4,436.6 460.8,435.4 462.2,434.2 463.6,433.0 465.1,431.8 466.5,430.6 467.9,429.4 469.3,428.3 470.7,427.1 472.2,425.9 473.6,424.7 475.0,423.5 476.4,422.4 477.9,421.2 479.3,420.0 480.7,418.9 482.2,417.7 483.6,416.5 485.0,415.4 486.5,414.2 487.9,413.0 489.3,411.9 490.8,410.7 492.2,409.6 493.7,408.4 495.1,407.3 496.6,406.1 498.0,405.0 499.5,403.8 500.9,402.7 502.4,401.5 503.9,400.4 505.3,399.3 506.8,398.1 508.2,397.0 509.7,395.9 511.2,394.7 512.6,393.6 514.1,392.5 515.6,391.3 517.0,390.2 518.5,389.1 520.0,388.0 521.5,386.9 522.9,385.7 524.4,384.6 525.9,383.5 527.4,382.4 528.9,381.3 530.3,380.2 531.8,379.1 533.3,378.0 534.8,376.9 536.3,375.8 537.8,374.7 539.3,373.6 540.8,372.5 542.3,371.4 543.8,370.3 545.3,369.2 546.7,368.1 548.2,367.0 549.7,365.9 551.2,364.8 552.7,363.7 554.2,362.6 555.7,361.6 557.2,360.5 558.7,359.4 560.3,358.3 561.8,357.2 563.3,356.2 564.8,355.1 566.3,354.0 567.8,352.9 569.3,351.9 570.8,350.8 572.3,349.7 573.8,348.7 575.4,347.6 576.9,346.5 578.4,345.5 579.9,344.4 581.4,343.4 583.0,342.3 584.5,341.2 586.0,340.2 587.5,339.1 589.0,338.1 590.6,337.0 592.1,336.0 593.6,334.9 595.1,333.9 596.7,332.8 598.2,331.8 599.7,330.7 601.3,329.7 602.8,328.7 604.3,327.6 605.9,326.6 607.4,325.6 608.9,324.5 610.5,323.5 612.0,322.5 613.5,321.4 615.1,320.4 616.6,319.4 618.2,318.4 619.7,317.3 621.2,316.3 622.8,315.3 624.3,314.3 625.9,313.2 627.4,312.2 629.0,311.2 630.5,310.2 632.0,309.2 633.6,308.2 635.1,307.2 636.7,306.1 638.2,305.1 639.8,304.1 641.3,303.1 642.9,302.1 644.4,301.1 646.0,300.1 647.5,299.1 649.1,298.1 650.6,297.1 652.2,296.1 653.7,295.0 655.3,294.0 656.8,293.0 658.4,292.0 659.9,291.0 661.5,290.0 663.0,289.0 664.6,288.0 666.2,287.0 667.7,286.0 669.3,285.0 670.8,284.0 672.4,283.0 673.9,282.0 675.5,281.0 677.0,280.1 678.6,279.1 680.2,278.1 681.7,277.1 683.3,276.1 684.8,275.1 686.4,274.1 688.0,273.1 689.5,272.1 691.1,271.1 692.6,270.1 694.2,269.1 695.7,268.1 697.3,267.1 698.9,266.1 700.4,265.1 702.0,264.2 703.5,263.2 705.1,262.2 706.7,261.2 708.2,260.2 709.8,259.2 711.4,258.2 712.9,257.2 714.5,256.2 716.0,255.2 717.6,254.2 719.2,253.3 720.7,252.3 722.3,251.3 723.8,250.3 725.4,249.3 727.0,248.3 728.5,247.3 730.1,246.3 731.6,245.3 733.2,244.3 734.8,243.3 736.3,242.3 737.9,241.3 739.4,240.3 741.0,239.3 742.6,238.3 744.1,237.3 745.7,236.3 747.2,235.3 748.8,234.3 750.4,233.4 751.9,232.4 753.5,231.4 755.0,230.4 756.6,229.4 758.1,228.4 759.7,227.4 761.3,226.4 762.8,225.4 764.4,224.4 765.9,223.4 767.5,222.3 769.0,221.3 770.6,220.3 772.2,219.3 773.7,218.3 775.3,217.3 776.8,216.3 778.4,215.3 779.9,214.3 781.5,213.3 783.1,212.3 784.6,211.3 786.2,210.3 787.7,209.3 789.3,208.3 790.9,207.3 792.4,206.3 794.0,205.3 795.5,204.3 797.1,203.3 798.6,202.3 800.2,201.3 801.8,200.2 803.3,199.2 804.9,198.2 806.4,197.2 808.0,196.2 809.5,195.2 811.1,194.2 812.6,193.1 814.2,192.1 815.7,191.1 817.3,190.1 818.8,189.1 820.4,188.1 822.0,187.0 823.5,186.0 825.1,185.0 826.6,184.0 828.1,182.9 829.7,181.9 831.2,180.9 832.8,179.8 834.3,178.8 835.9,177.8 837.4,176.7 839.0,175.7 840.5,174.7 842.1,173.6 843.6,172.6 845.2,171.6 846.7,170.5 848.3,169.5 849.8,168.4 851.3,167.4 852.9,166.4 854.4,165.3 856.0,164.3 857.5,163.2 859.1,162.2 860.6,161.1 862.1,160.1 863.7,159.0 865.2,157.9 866.7,156.9 868.3,155.8 869.8,154.7 871.3,153.7 872.8,152.6 874.3,151.5 875.9,150.4 877.4,149.3 878.9,148.3 880.4,147.2 881.9,146.1 883.4,145.0 884.9,143.9 886.4,142.7 887.9,141.6 889.4,140.5 890.9,139.4 892.3,138.3 893.8,137.1 895.3,136.0 896.8,134.9 898.2,133.7 899.7,132.6 901.2,131.4 902.6,130.3 904.0,129.1 905.5,127.9 906.9,126.7 908.3,125.5 909.7,124.3 911.1,123.1 912.5,121.8 913.9,120.6 915.3,119.4 916.7,118.2 918.1,116.9 919.5,115.7 920.8,114.4 922.2,113.2 923.6,111.9 924.9,110.6 926.3,109.4 927.6,108.1 929.0,106.8 930.3,105.5 931.6,104.3 933.0,103.0 934.3,101.7 935.6,100.4 936.9,99.0 938.2,97.7 939.5,96.4 940.8,95.1 942.1,93.7 943.4,92.4 944.6,91.0 945.9,89.7 947.2,88.3 948.4,86.9 949.6,85.5 950.9,84.1 952.1,82.7 953.3,81.3" fill="#e3141c"/>
<polyline points="947,77.5 958.6,71 955.6,78" fill="none" stroke="#e3141c" stroke-width="2.0" stroke-linecap="round" stroke-linejoin="round"/>
<polygon points="952.8,80.9 951.6,82.3 950.4,83.7 949.2,85.1 948.0,86.5 946.7,87.9 945.5,89.2 944.2,90.6 942.9,92.0 941.7,93.3 940.4,94.7 939.1,96.0 937.8,97.3 936.5,98.6 935.2,99.9 933.9,101.2 932.6,102.5 931.2,103.8 929.9,105.1 928.5,106.4 927.2,107.7 925.9,108.9 924.5,110.2 923.2,111.5 921.8,112.7 920.4,114.0 919.1,115.2 917.7,116.5 916.3,117.7 914.9,118.9 913.5,120.2 912.1,121.4 910.7,122.6 909.3,123.8 907.9,125.0 906.5,126.2 905.1,127.4 903.7,128.6 902.2,129.8 900.8,131.0 899.3,132.1 897.9,133.3 896.4,134.4 894.9,135.5 893.5,136.7 892.0,137.8 890.5,138.9 889.0,140.0 887.5,141.2 886.0,142.3 884.5,143.4 883.0,144.5 881.5,145.6 880.0,146.7 878.5,147.8 877.0,148.9 875.5,149.9 874.0,151.0 872.5,152.1 870.9,153.2 869.4,154.3 867.9,155.3 866.4,156.4 864.8,157.5 863.3,158.5 861.8,159.6 860.2,160.6 858.7,161.7 857.2,162.7 855.6,163.8 854.1,164.8 852.5,165.9 851.0,166.9 849.5,168.0 847.9,169.0 846.4,170.0 844.8,171.1 843.3,172.1 841.7,173.1 840.2,174.2 838.6,175.2 837.1,176.2 835.5,177.3 834.0,178.3 832.5,179.3 830.9,180.4 829.4,181.4 827.8,182.4 826.3,183.5 824.7,184.5 823.2,185.5 821.6,186.5 820.1,187.6 818.5,188.6 817.0,189.6 815.4,190.6 813.9,191.6 812.3,192.6 810.8,193.7 809.2,194.7 807.6,195.7 806.1,196.7 804.5,197.7 803.0,198.7 801.4,199.7 799.9,200.8 798.3,201.8 796.8,202.8 795.2,203.8 793.6,204.8 792.1,205.8 790.5,206.8 789.0,207.8 787.4,208.8 785.8,209.8 784.3,210.8 782.7,211.8 781.2,212.8 779.6,213.8 778.1,214.8 776.5,215.8 774.9,216.8 773.4,217.8 771.8,218.8 770.3,219.8 768.7,220.8 767.2,221.8 765.6,222.8 764.1,223.8 762.5,224.8 760.9,225.9 759.4,226.9 757.8,227.9 756.3,228.9 754.7,229.8 753.1,230.8 751.6,231.8 750.0,232.8 748.5,233.8 746.9,234.8 745.4,235.8 743.8,236.8 742.2,237.8 740.7,238.8 739.1,239.8 737.6,240.8 736.0,241.8 734.4,242.8 732.9,243.8 731.3,244.8 729.8,245.8 728.2,246.8 726.6,247.8 725.1,248.8 723.5,249.8 722.0,250.8 720.4,251.8 718.8,252.7 717.3,253.7 715.7,254.7 714.2,255.7 712.6,256.7 711.0,257.7 709.5,258.7 707.9,259.7 706.3,260.7 704.8,261.7 703.2,262.7 701.7,263.6 700.1,264.6 698.5,265.6 697.0,266.6 695.4,267.6 693.9,268.6 692.3,269.6 690.7,270.6 689.2,271.6 687.6,272.6 686.1,273.6 684.5,274.6 683.0,275.6 681.4,276.6 679.8,277.6 678.3,278.5 676.7,279.5 675.2,280.5 673.6,281.5 672.1,282.5 670.5,283.5 668.9,284.5 667.4,285.5 665.8,286.5 664.3,287.5 662.7,288.5 661.2,289.5 659.6,290.5 658.1,291.5 656.5,292.5 655.0,293.5 653.4,294.5 651.8,295.6 650.3,296.6 648.7,297.6 647.2,298.6 645.6,299.6 644.1,300.6 642.5,301.6 641.0,302.6 639.4,303.6 637.9,304.6 636.4,305.6 634.8,306.6 633.3,307.7 631.7,308.7 630.2,309.7 628.6,310.7 627.1,311.7 625.5,312.7 624.0,313.8 622.4,314.8 620.9,315.8 619.4,316.8 617.8,317.9 616.3,318.9 614.7,319.9 613.2,320.9 611.7,322.0 610.1,323.0 608.6,324.0 607.1,325.1 605.5,326.1 604.0,327.1 602.5,328.2 600.9,329.2 599.4,330.2 597.9,331.3 596.3,332.3 594.8,333.4 593.3,334.4 591.8,335.5 590.2,336.5 588.7,337.6 587.2,338.6 585.7,339.7 584.1,340.7 582.6,341.8 581.1,342.9 579.6,343.9 578.1,345.0 576.5,346.0 575.0,347.1 573.5,348.2 572.0,349.2 570.5,350.3 569.0,351.4 567.4,352.5 565.9,353.5 564.4,354.6 562.9,355.7 561.4,356.8 559.9,357.8 558.4,358.9 556.9,360.0 555.4,361.1 553.9,362.2 552.4,363.2 550.9,364.3 549.4,365.4 547.9,366.5 546.4,367.6 544.9,368.7 543.4,369.8 541.9,370.9 540.4,372.0 538.9,373.1 537.4,374.2 535.9,375.3 534.5,376.4 533.0,377.5 531.5,378.6 530.0,379.7 528.5,380.8 527.0,381.9 525.5,383.0 524.1,384.2 522.6,385.3 521.1,386.4 519.6,387.5 518.2,388.6 516.7,389.7 515.2,390.9 513.7,392.0 512.3,393.1 510.8,394.3 509.3,395.4 507.9,396.5 506.4,397.7 504.9,398.8 503.5,399.9 502.0,401.1 500.6,402.2 499.1,403.4 497.7,404.5 496.2,405.6 494.8,406.8 493.3,407.9 491.9,409.1 490.4,410.3 489.0,411.4 487.5,412.6 486.1,413.7 484.6,414.9 483.2,416.1 481.8,417.2 480.3,418.4 478.9,419.6 477.5,420.7 476.0,421.9 474.6,423.1 473.2,424.3 471.8,425.4 470.3,426.6 468.9,427.8 467.5,429.0 466.1,430.2 464.7,431.4 463.3,432.6 461.8,433.7 460.4,434.9 459.0,436.1 457.6,437.3 456.2,438.5 454.8,439.7 453.4,440.9 452.0,442.2 450.6,443.4 449.2,444.6 447.8,445.8 446.5,447.0 445.1,448.2 443.7,449.4 442.3,450.7 440.9,451.9 439.5,453.1 438.2,454.4 436.8,455.6 435.4,456.8 434.0,458.1 432.7,459.3 431.3,460.5 429.9,461.8 428.6,463.0 427.2,464.3 425.9,465.5 424.5,466.8 423.2,468.0 421.8,469.3 420.5,470.5 419.1,471.8 417.8,473.1 416.4,474.3 415.1,475.6 413.8,476.9 412.4,478.2 411.1,479.4 409.8,480.7 408.5,482.0 407.1,483.3 405.8,484.6 404.5,485.9 403.2,487.2 401.9,488.5 400.6,489.8 399.3,491.1 397.9,492.4 396.6,493.7 395.3,495.0 394.1,496.3 392.8,497.6 391.5,498.9 390.2,500.2 388.9,501.5 387.6,502.9 386.3,504.2 385.0,505.5 383.8,506.8 382.5,508.2 381.2,509.5 380.0,510.8 378.7,512.2 377.4,513.5 376.2,514.9 374.9,516.2 373.7,517.6 372.4,518.9 371.2,520.3 369.9,521.6 368.7,523.0 367.4,524.4 366.2,525.7 365.0,527.1 363.7,528.5 362.5,529.9 361.3,531.2 360.1,532.6 358.8,534.0 357.6,535.4 356.4,536.8 355.2,538.2 354.0,539.6 352.8,540.9 351.6,542.3 350.4,543.8 349.2,545.2 348.0,546.6 346.8,548.0 345.6,549.4 344.5,550.8 343.3,552.2 342.1,553.6 340.9,555.1 339.8,556.5 338.6,557.9 337.4,559.4 336.3,560.8 335.1,562.2 334.0,563.7 332.8,565.1 331.7,566.6 330.5,568.0 329.4,569.5 328.2,570.9 327.1,572.4 326.0,573.9 324.8,575.3 323.7,576.8 322.6,578.3 321.5,579.7 320.4,581.2 319.2,582.7 318.1,584.2 317.0,585.7 315.9,587.2 314.8,588.6 313.7,590.1 312.7,591.6 311.6,593.1 310.5,594.6 309.4,596.2 308.3,597.7 307.3,599.2 306.2,600.7 305.1,602.2 304.1,603.7 303.0,605.3 301.9,606.8 300.9,608.3 299.8,609.8 298.8,611.4 297.7,612.9 296.7,614.5 295.6,616.0 294.6,617.5 293.5,619.1 292.5,620.6 291.5,622.2 290.4,623.7 289.4,625.3 288.4,626.8 287.3,628.4 286.3,629.9 285.3,631.5 284.3,633.1 283.3,634.6 282.2,636.2 281.2,637.8 280.2,639.3 279.2,640.9 278.2,642.4 277.2,644.0 276.2,645.6 275.2,647.1 274.2,648.7 273.1,650.3 272.1,651.8 271.1,653.4 270.1,654.9 269.1,656.5 268.1,658.1 267.1,659.6 266.1,661.2 265.1,662.7 264.1,664.3 263.1,665.8 267.5,668.6 268.5,667.1 269.5,665.5 270.5,663.9 271.5,662.4 272.4,660.8 273.4,659.2 274.4,657.7 275.4,656.1 276.4,654.5 277.4,653.0 278.4,651.4 279.4,649.8 280.4,648.2 281.4,646.7 282.4,645.1 283.3,643.5 284.3,642.0 285.3,640.4 286.3,638.8 287.3,637.2 288.3,635.7 289.3,634.1 290.3,632.5 291.3,631.0 292.3,629.4 293.3,627.8 294.3,626.3 295.3,624.7 296.4,623.2 297.4,621.6 298.4,620.1 299.4,618.5 300.4,617.0 301.4,615.4 302.5,613.9 303.5,612.4 304.5,610.8 305.6,609.3 306.6,607.8 307.7,606.2 308.7,604.7 309.8,603.2 310.8,601.7 311.9,600.2 313.0,598.7 314.0,597.2 315.1,595.7 316.2,594.2 317.3,592.7 318.3,591.2 319.4,589.7 320.5,588.2 321.6,586.8 322.7,585.3 323.8,583.8 324.9,582.3 326.0,580.9 327.1,579.4 328.2,577.9 329.4,576.5 330.5,575.0 331.6,573.6 332.7,572.1 333.9,570.7 335.0,569.2 336.1,567.8 337.3,566.3 338.4,564.9 339.6,563.5 340.7,562.0 341.9,560.6 343.0,559.2 344.2,557.7 345.3,556.3 346.5,554.9 347.7,553.5 348.8,552.1 350.0,550.7 351.2,549.3 352.4,547.9 353.6,546.4 354.7,545.0 355.9,543.7 357.1,542.3 358.3,540.9 359.5,539.5 360.7,538.1 361.9,536.7 363.1,535.3 364.4,534.0 365.6,532.6 366.8,531.2 368.0,529.8 369.2,528.5 370.4,527.1 371.7,525.7 372.9,524.4 374.1,523.0 375.4,521.7 376.6,520.3 377.9,518.9 379.1,517.6 380.3,516.3 381.6,514.9 382.8,513.6 384.1,512.2 385.4,510.9 386.6,509.6 387.9,508.2 389.1,506.9 390.4,505.6 391.7,504.3 393.0,502.9 394.2,501.6 395.5,500.3 396.8,499.0 398.1,497.7 399.4,496.4 400.7,495.1 401.9,493.8 403.2,492.5 404.5,491.2 405.8,489.9 407.1,488.6 408.4,487.3 409.8,486.0 411.1,484.7 412.4,483.4 413.7,482.1 415.0,480.8 416.3,479.6 417.7,478.3 419.0,477.0 420.3,475.7 421.6,474.5 423.0,473.2 424.3,472.0 425.7,470.7 427.0,469.5 428.4,468.2 429.7,467.0 431.1,465.7 432.5,464.5 433.8,463.3 435.2,462.1 436.6,460.8 437.9,459.6 439.3,458.4 440.7,457.2 442.1,455.9 443.4,454.7 444.8,453.5 446.2,452.3 447.6,451.1 449.0,449.9 450.4,448.7 451.8,447.5 453.2,446.3 454.6,445.1 456.0,443.9 457.4,442.7 458.8,441.5 460.2,440.3 461.6,439.1 463.0,437.9 464.4,436.8 465.8,435.6 467.2,434.4 468.7,433.2 470.1,432.0 471.5,430.9 472.9,429.7 474.3,428.5 475.8,427.4 477.2,426.2 478.6,425.0 480.1,423.9 481.5,422.7 482.9,421.6 484.4,420.4 485.8,419.2 487.2,418.1 488.7,416.9 490.1,415.8 491.6,414.7 493.0,413.5 494.5,412.4 495.9,411.2 497.4,410.1 498.8,408.9 500.3,407.8 501.7,406.7 503.2,405.5 504.7,404.4 506.1,403.3 507.6,402.2 509.0,401.0 510.5,399.9 512.0,398.8 513.4,397.7 514.9,396.6 516.4,395.4 517.9,394.3 519.3,393.2 520.8,392.1 522.3,391.0 523.8,389.9 525.2,388.8 526.7,387.7 528.2,386.6 529.7,385.5 531.2,384.4 532.7,383.3 534.2,382.2 535.7,381.1 537.1,380.0 538.6,378.9 540.1,377.8 541.6,376.8 543.1,375.7 544.6,374.6 546.1,373.5 547.6,372.4 549.1,371.3 550.6,370.2 552.1,369.1 553.6,368.0 555.0,366.9 556.5,365.8 558.0,364.8 559.5,363.7 561.0,362.6 562.5,361.5 564.0,360.4 565.5,359.3 567.0,358.3 568.5,357.2 570.0,356.1 571.5,355.0 573.1,354.0 574.6,352.9 576.1,351.8 577.6,350.8 579.1,349.7 580.6,348.6 582.1,347.6 583.6,346.5 585.1,345.5 586.7,344.4 588.2,343.3 589.7,342.3 591.2,341.2 592.7,340.2 594.3,339.1 595.8,338.1 597.3,337.0 598.8,336.0 600.3,334.9 601.9,333.9 603.4,332.8 604.9,331.8 606.5,330.8 608.0,329.7 609.5,328.7 611.1,327.7 612.6,326.7 614.1,325.6 615.7,324.6 617.2,323.6 618.7,322.6 620.3,321.5 621.8,320.5 623.4,319.5 624.9,318.5 626.4,317.5 628.0,316.4 629.5,315.4 631.1,314.4 632.6,313.4 634.2,312.4 635.7,311.4 637.2,310.4 638.8,309.4 640.3,308.3 641.9,307.3 643.4,306.3 645.0,305.3 646.5,304.3 648.1,303.3 649.6,302.3 651.2,301.3 652.7,300.3 654.3,299.3 655.8,298.3 657.4,297.3 658.9,296.3 660.5,295.3 662.0,294.3 663.6,293.3 665.1,292.3 666.7,291.3 668.3,290.3 669.8,289.3 671.4,288.3 672.9,287.3 674.5,286.3 676.0,285.3 677.6,284.3 679.1,283.3 680.7,282.3 682.2,281.3 683.8,280.3 685.4,279.3 686.9,278.3 688.5,277.4 690.0,276.4 691.6,275.4 693.2,274.4 694.7,273.4 696.3,272.4 697.8,271.4 699.4,270.4 700.9,269.4 702.5,268.4 704.1,267.4 705.6,266.4 707.2,265.4 708.7,264.5 710.3,263.5 711.9,262.5 713.4,261.5 715.0,260.5 716.6,259.5 718.1,258.5 719.7,257.5 721.2,256.5 722.8,255.5 724.4,254.5 725.9,253.5 727.5,252.5 729.0,251.6 730.6,250.6 732.1,249.6 733.7,248.6 735.3,247.6 736.8,246.6 738.4,245.6 739.9,244.6 741.5,243.6 743.0,242.6 744.6,241.6 746.2,240.6 747.7,239.6 749.3,238.6 750.8,237.6 752.4,236.5 753.9,235.5 755.5,234.5 757.1,233.5 758.6,232.5 760.2,231.5 761.7,230.5 763.3,229.5 764.8,228.5 766.4,227.5 768.0,226.5 769.5,225.5 771.1,224.5 772.6,223.5 774.2,222.5 775.7,221.5 777.3,220.5 778.8,219.4 780.4,218.4 781.9,217.4 783.5,216.4 785.1,215.4 786.6,214.4 788.2,213.4 789.8,212.4 791.3,211.4 792.9,210.4 794.4,209.4 796.0,208.4 797.6,207.4 799.1,206.4 800.7,205.4 802.2,204.4 803.8,203.4 805.4,202.3 806.9,201.3 808.5,200.3 810.0,199.3 811.6,198.3 813.1,197.3 814.7,196.3 816.3,195.3 817.8,194.2 819.4,193.2 820.9,192.2 822.5,191.2 824.0,190.1 825.6,189.1 827.1,188.1 828.7,187.1 830.2,186.0 831.8,185.0 833.3,184.0 834.9,183.0 836.4,181.9 838.0,180.9 839.5,179.9 841.1,178.8 842.6,177.8 844.2,176.7 845.7,175.7 847.3,174.7 848.8,173.6 850.4,172.6 851.9,171.5 853.5,170.5 855.0,169.5 856.6,168.4 858.1,167.4 859.7,166.3 861.2,165.2 862.7,164.2 864.3,163.1 865.8,162.1 867.4,161.0 868.9,159.9 870.4,158.9 872.0,157.8 873.5,156.7 875.0,155.6 876.5,154.5 878.1,153.4 879.6,152.3 881.1,151.3 882.6,150.2 884.1,149.0 885.6,147.9 887.1,146.8 888.6,145.7 890.1,144.6 891.6,143.5 893.1,142.3 894.6,141.2 896.1,140.1 897.6,138.9 899.1,137.8 900.5,136.6 902.0,135.5 903.5,134.3 905.0,133.1 906.4,132.0 907.9,130.8 909.3,129.6 910.8,128.4 912.2,127.3 913.7,126.1 915.1,124.9 916.6,123.7 918.0,122.5 919.4,121.2 920.9,120.0 922.3,118.8 923.7,117.6 925.1,116.3 926.5,115.1 927.9,113.8 929.3,112.6 930.6,111.3 932.0,110.0 933.3,108.7 934.7,107.4 936.0,106.0 937.3,104.7 938.6,103.4 940.0,102.0 941.3,100.7 942.6,99.3 943.9,98.0 945.1,96.6 946.4,95.2 947.7,93.8 949.0,92.4 950.2,91.0 951.5,89.6 952.7,88.2 953.9,86.8 955.2,85.3 956.4,83.9" fill="#5cf026"/>
<polygon points="255.5,572.3 255.9,570.6 256.4,568.9 256.8,567.2 257.3,565.5 257.8,563.8 258.2,562.1 258.7,560.4 259.2,558.7 259.7,557.0 260.2,555.3 260.8,553.7 261.4,552.0 262.0,550.3 262.6,548.7 263.2,547.0 263.8,545.4 264.5,543.8 265.1,542.1 265.8,540.5 266.5,538.9 267.2,537.2 267.8,535.6 268.5,534.0 269.2,532.4 269.9,530.7 270.6,529.1 271.3,527.5 272.0,525.9 272.7,524.2 273.4,522.6 274.1,521.0 274.8,519.4 275.6,517.8 276.3,516.2 277.1,514.6 277.8,513.0 278.6,511.4 279.4,509.8 280.2,508.2 280.9,506.6 281.7,505.0 282.5,503.5 283.4,501.9 284.2,500.3 285.0,498.8 285.9,497.2 286.7,495.6 287.6,494.1 288.4,492.5 289.3,491.0 290.2,489.4 291.0,487.9 291.9,486.3 292.8,484.8 293.7,483.3 294.6,481.7 295.5,480.2 296.4,478.7 297.3,477.1 298.2,475.6 299.2,474.1 300.1,472.6 301.0,471.1 302.0,469.6 302.9,468.1 303.8,466.6 304.8,465.1 305.8,463.6 306.7,462.1 307.7,460.6 308.7,459.1 309.6,457.7 310.6,456.2 311.6,454.7 312.6,453.2 313.6,451.8 314.6,450.3 315.6,448.8 316.6,447.4 317.6,445.9 318.6,444.5 319.7,443.0 320.7,441.6 321.7,440.2 322.8,438.7 323.8,437.3 324.9,435.9 325.9,434.5 327.0,433.1 328.1,431.6 329.2,430.2 330.2,428.8 331.3,427.4 332.4,426.0 333.5,424.7 334.6,423.3 335.7,421.9 336.8,420.5 338.0,419.1 339.1,417.8 340.2,416.4 341.3,415.1 342.5,413.7 343.6,412.4 344.8,411.0 345.9,409.7 347.1,408.4 348.3,407.0 349.5,405.7 350.6,404.4 351.8,403.1 353.0,401.8 354.2,400.5 355.4,399.2 356.7,397.9 357.9,396.6 359.1,395.4 360.3,394.1 361.6,392.8 362.8,391.5 364.0,390.3 365.3,389.0 366.5,387.8 367.8,386.5 369.1,385.3 370.3,384.1 371.6,382.9 372.9,381.6 374.2,380.4 375.5,379.2 376.8,378.0 378.1,376.8 379.4,375.6 380.7,374.4 382.0,373.2 383.3,372.0 384.6,370.8 386.0,369.7 387.3,368.5 388.6,367.3 389.9,366.1 391.3,364.9 392.6,363.8 393.9,362.6 395.3,361.5 396.6,360.3 398.0,359.1 399.3,358.0 400.7,356.9 402.1,355.7 403.4,354.6 404.8,353.5 406.2,352.3 407.6,351.2 409.0,350.1 410.3,349.0 411.7,347.9 413.1,346.8 414.5,345.7 415.9,344.6 417.3,343.5 418.7,342.4 420.1,341.3 421.6,340.2 423.0,339.2 424.4,338.1 425.8,337.0 427.2,336.0 428.6,334.9 430.1,333.8 431.5,332.8 432.9,331.7 434.4,330.7 435.8,329.6 437.2,328.6 438.7,327.6 440.1,326.5 441.6,325.5 443.0,324.5 444.5,323.5 445.9,322.4 447.4,321.4 448.8,320.4 450.3,319.4 451.8,318.4 453.2,317.4 454.7,316.4 456.2,315.4 457.7,314.4 459.1,313.5 460.6,312.5 462.1,311.5 463.6,310.5 465.1,309.5 466.5,308.6 468.0,307.6 469.5,306.7 471.0,305.7 472.5,304.7 474.0,303.8 475.5,302.8 477.0,301.9 478.5,300.9 480.0,300.0 481.5,299.1 483.0,298.1 484.6,297.2 486.1,296.3 487.6,295.4 489.1,294.5 490.6,293.6 492.2,292.6 493.7,291.7 495.2,290.8 496.8,289.9 498.3,289.0 499.8,288.2 501.4,287.3 502.9,286.4 504.5,285.5 506.0,284.6 507.6,283.7 509.1,282.8 510.7,282.0 512.2,281.1 513.8,280.2 515.3,279.4 516.9,278.5 518.4,277.6 520.0,276.8 521.5,275.9 523.1,275.1 524.7,274.2 526.2,273.4 527.8,272.5 529.4,271.7 530.9,270.8 532.5,270.0 534.1,269.2 535.7,268.3 537.2,267.5 538.8,266.7 540.4,265.8 542.0,265.0 543.6,264.2 545.1,263.4 546.7,262.5 548.3,261.7 549.9,260.9 551.5,260.1 553.1,259.2 554.6,258.4 556.2,257.6 557.8,256.8 559.4,256.0 561.0,255.2 562.6,254.4 564.2,253.6 565.8,252.8 567.4,252.0 569.0,251.2 570.6,250.4 572.2,249.6 573.8,248.8 575.4,248.0 577.0,247.2 578.6,246.4 580.2,245.6 581.8,244.8 583.4,244.0 585.0,243.2 586.6,242.5 588.3,241.7 589.9,240.9 591.5,240.1 593.1,239.3 594.7,238.6 596.3,237.8 597.9,237.0 599.6,236.2 601.2,235.5 602.8,234.7 604.4,233.9 606.0,233.2 607.6,232.4 609.3,231.6 610.9,230.9 612.5,230.1 614.1,229.3 615.8,228.6 617.4,227.8 619.0,227.1 620.6,226.3 622.3,225.5 623.9,224.8 625.5,224.0 627.1,223.3 628.8,222.5 630.4,221.8 632.0,221.0 633.7,220.3 635.3,219.5 636.9,218.8 638.6,218.0 640.2,217.3 641.8,216.5 643.4,215.8 645.1,215.0 646.7,214.3 648.3,213.5 650.0,212.8 651.6,212.1 653.2,211.3 654.9,210.6 656.5,209.8 658.1,209.1 659.8,208.3 661.4,207.6 663.1,206.9 664.7,206.1 666.3,205.4 668.0,204.6 669.6,203.9 671.2,203.2 672.9,202.4 674.5,201.7 676.1,200.9 677.8,200.2 679.4,199.5 681.0,198.7 682.7,198.0 684.3,197.3 686.0,196.5 687.6,195.8 689.2,195.0 690.9,194.3 692.5,193.6 694.1,192.8 695.8,192.1 697.4,191.4 699.1,190.6 700.7,189.9 702.3,189.2 704.0,188.4 705.6,187.7 707.2,187.0 708.9,186.2 710.5,185.5 712.1,184.8 713.8,184.0 715.4,183.3 717.0,182.6 718.7,181.8 720.3,181.1 721.9,180.4 723.6,179.6 725.2,178.9 726.8,178.2 728.5,177.4 730.1,176.7 731.8,176.0 733.4,175.2 735.0,174.5 736.7,173.8 738.3,173.0 739.9,172.3 741.6,171.6 743.2,170.8 744.8,170.1 746.5,169.4 748.1,168.6 749.7,167.9 751.4,167.2 753.0,166.4 754.6,165.7 756.3,165.0 757.9,164.2 759.5,163.5 761.2,162.8 762.8,162.0 764.4,161.3 766.0,160.5 767.7,159.8 769.3,159.0 770.9,158.3 772.5,157.6 774.2,156.8 775.8,156.1 777.4,155.3 779.1,154.6 780.7,153.8 782.3,153.1 783.9,152.3 785.6,151.6 787.2,150.8 788.8,150.1 790.4,149.4 792.1,148.6 793.7,147.9 795.3,147.1 797.0,146.4 798.6,145.6 800.2,144.9 801.8,144.1 803.5,143.4 805.1,142.6 806.7,141.9 808.3,141.1 810.0,140.4 811.6,139.7 813.2,138.9 814.8,138.2 816.5,137.4 818.1,136.7 819.7,135.9 821.4,135.2 823.0,134.4 824.6,133.7 826.2,132.9 827.9,132.2 829.5,131.4 831.1,130.7 832.7,129.9 834.4,129.2 836.0,128.5 837.6,127.7 839.2,127.0 840.9,126.2 842.5,125.5 844.1,124.7 845.8,124.0 847.4,123.2 849.0,122.5 850.7,121.8 852.3,121.0 853.9,120.3 855.5,119.5 857.2,118.8 858.8,118.1 860.4,117.3 862.1,116.6 863.7,115.8 865.3,115.1 867.0,114.3 868.6,113.6 870.2,112.9 871.9,112.1 873.5,111.4 875.1,110.6 876.7,109.9 878.4,109.1 880.0,108.4 881.6,107.6 883.3,106.9 884.9,106.2 886.5,105.4 888.2,104.7 889.8,103.9 891.4,103.2 893.1,102.4 894.7,101.7 896.3,100.9 898.0,100.2 899.6,99.5 901.2,98.7 902.9,98.0 904.5,97.2 906.1,96.5 907.8,95.7 909.4,95.0 911.0,94.2 912.7,93.5 914.3,92.7 915.9,92.0 917.6,91.2 919.2,90.5 920.8,89.7 922.4,89.0 924.1,88.2 925.7,87.4 927.3,86.6 928.9,85.8 930.5,85.1 932.2,84.3 933.8,83.5 935.4,82.7 937.0,81.9 938.6,81.1 940.3,80.4 941.9,79.6 943.5,78.8 945.1,78.0 946.7,77.2 948.4,80.9 946.8,81.7 945.2,82.5 943.6,83.3 942.0,84.1 940.4,84.9 938.8,85.7 937.1,86.6 935.5,87.4 933.9,88.2 932.3,89.0 930.7,89.8 929.1,90.6 927.5,91.4 925.9,92.3 924.3,93.1 922.7,93.9 921.1,94.6 919.4,95.4 917.8,96.2 916.2,96.9 914.6,97.7 913.0,98.5 911.3,99.3 909.7,100.0 908.1,100.8 906.5,101.6 904.8,102.3 903.2,103.1 901.6,103.9 900.0,104.7 898.4,105.4 896.7,106.2 895.1,107.0 893.5,107.7 891.9,108.5 890.2,109.3 888.6,110.0 887.0,110.8 885.4,111.6 883.8,112.3 882.1,113.1 880.5,113.9 878.9,114.7 877.3,115.4 875.7,116.2 874.0,117.0 872.4,117.7 870.8,118.5 869.2,119.3 867.6,120.0 865.9,120.8 864.3,121.6 862.7,122.3 861.1,123.1 859.5,123.9 857.8,124.6 856.2,125.4 854.6,126.2 853.0,126.9 851.4,127.7 849.7,128.4 848.1,129.2 846.5,130.0 844.9,130.7 843.3,131.5 841.6,132.2 840.0,133.0 838.4,133.7 836.7,134.5 835.1,135.2 833.5,136.0 831.9,136.7 830.2,137.4 828.6,138.2 827.0,138.9 825.3,139.7 823.7,140.4 822.1,141.2 820.5,141.9 818.8,142.7 817.2,143.4 815.6,144.1 813.9,144.9 812.3,145.6 810.7,146.4 809.1,147.1 807.4,147.8 805.8,148.6 804.2,149.3 802.5,150.1 800.9,150.8 799.3,151.6 797.7,152.3 796.0,153.0 794.4,153.8 792.8,154.5 791.1,155.3 789.5,156.0 787.9,156.8 786.3,157.5 784.6,158.2 783.0,159.0 781.4,159.7 779.7,160.5 778.1,161.2 776.5,161.9 774.8,162.7 773.2,163.4 771.6,164.2 770.0,164.9 768.3,165.6 766.7,166.4 765.1,167.1 763.4,167.9 761.8,168.6 760.2,169.3 758.5,170.0 756.9,170.8 755.3,171.5 753.6,172.2 752.0,172.9 750.3,173.7 748.7,174.4 747.1,175.1 745.4,175.9 743.8,176.6 742.2,177.3 740.5,178.0 738.9,178.8 737.3,179.5 735.6,180.2 734.0,180.9 732.3,181.7 730.7,182.4 729.1,183.1 727.4,183.8 725.8,184.6 724.2,185.3 722.5,186.0 720.9,186.7 719.2,187.5 717.6,188.2 716.0,188.9 714.3,189.7 712.7,190.4 711.0,191.1 709.4,191.8 707.8,192.6 706.1,193.3 704.5,194.0 702.8,194.7 701.2,195.5 699.6,196.2 697.9,196.9 696.3,197.6 694.7,198.4 693.0,199.1 691.4,199.8 689.7,200.6 688.1,201.3 686.4,202.0 684.8,202.7 683.2,203.5 681.5,204.2 679.9,204.9 678.3,205.7 676.6,206.4 675.0,207.2 673.4,207.9 671.7,208.6 670.1,209.4 668.5,210.1 666.8,210.9 665.2,211.6 663.6,212.3 661.9,213.1 660.3,213.8 658.6,214.6 657.0,215.3 655.4,216.1 653.8,216.8 652.1,217.5 650.5,218.3 648.9,219.0 647.2,219.8 645.6,220.5 644.0,221.3 642.3,222.0 640.7,222.8 639.1,223.5 637.4,224.3 635.8,225.0 634.2,225.8 632.6,226.5 630.9,227.3 629.3,228.0 627.7,228.8 626.1,229.5 624.4,230.3 622.8,231.0 621.2,231.8 619.6,232.5 617.9,233.3 616.3,234.1 614.7,234.8 613.1,235.6 611.5,236.3 609.9,237.1 608.2,237.9 606.6,238.6 605.0,239.4 603.4,240.2 601.8,240.9 600.2,241.7 598.5,242.4 596.9,243.2 595.3,244.0 593.7,244.7 592.1,245.5 590.5,246.3 588.9,247.0 587.2,247.8 585.6,248.6 584.0,249.4 582.4,250.1 580.8,250.9 579.2,251.7 577.6,252.5 576.0,253.3 574.4,254.0 572.8,254.8 571.2,255.6 569.6,256.4 568.0,257.2 566.4,258.0 564.8,258.8 563.2,259.6 561.6,260.4 560.0,261.2 558.5,262.0 556.9,262.8 555.3,263.6 553.7,264.4 552.1,265.2 550.5,266.0 548.9,266.8 547.4,267.6 545.8,268.4 544.2,269.3 542.6,270.1 541.1,270.9 539.5,271.8 537.9,272.6 536.4,273.5 534.8,274.3 533.3,275.1 531.7,276.0 530.1,276.8 528.6,277.7 527.0,278.5 525.5,279.4 523.9,280.3 522.4,281.1 520.8,282.0 519.3,282.9 517.7,283.7 516.2,284.6 514.7,285.5 513.1,286.3 511.6,287.2 510.0,288.1 508.5,289.0 507.0,289.9 505.5,290.8 503.9,291.7 502.4,292.5 500.9,293.4 499.4,294.3 497.8,295.2 496.3,296.2 494.8,297.1 493.3,298.0 491.8,298.9 490.3,299.8 488.8,300.7 487.3,301.6 485.8,302.6 484.2,303.5 482.7,304.4 481.2,305.4 479.7,306.3 478.3,307.2 476.8,308.2 475.3,309.1 473.8,310.0 472.3,311.0 470.8,311.9 469.3,312.9 467.8,313.9 466.4,314.8 464.9,315.8 463.4,316.8 461.9,317.7 460.5,318.7 459.0,319.7 457.6,320.7 456.1,321.6 454.6,322.6 453.2,323.6 451.7,324.6 450.3,325.6 448.8,326.6 447.4,327.6 445.9,328.6 444.5,329.7 443.0,330.7 441.6,331.7 440.2,332.7 438.7,333.7 437.3,334.8 435.9,335.8 434.5,336.8 433.0,337.9 431.6,338.9 430.2,340.0 428.8,341.0 427.4,342.1 426.0,343.2 424.6,344.2 423.2,345.3 421.8,346.4 420.4,347.5 419.0,348.5 417.6,349.6 416.2,350.7 414.8,351.8 413.5,352.9 412.1,354.0 410.7,355.1 409.3,356.2 408.0,357.3 406.6,358.5 405.3,359.6 403.9,360.7 402.6,361.8 401.2,363.0 399.9,364.1 398.5,365.3 397.2,366.4 395.9,367.6 394.5,368.7 393.2,369.9 391.9,371.0 390.6,372.2 389.3,373.4 388.0,374.6 386.7,375.7 385.4,376.9 384.1,378.1 382.8,379.3 381.5,380.4 380.2,381.6 378.9,382.8 377.7,384.0 376.4,385.2 375.1,386.5 373.9,387.7 372.6,388.9 371.4,390.1 370.1,391.3 368.9,392.6 367.7,393.8 366.4,395.1 365.2,396.3 364.0,397.6 362.8,398.8 361.6,400.1 360.4,401.4 359.2,402.6 358.0,403.9 356.8,405.2 355.6,406.5 354.4,407.8 353.3,409.1 352.1,410.4 351.0,411.7 349.8,413.0 348.6,414.3 347.5,415.7 346.4,417.0 345.2,418.3 344.1,419.7 343.0,421.0 341.9,422.4 340.8,423.7 339.7,425.1 338.6,426.4 337.5,427.8 336.4,429.2 335.3,430.5 334.2,431.9 333.2,433.3 332.1,434.7 331.1,436.1 330.0,437.5 328.9,438.9 327.9,440.3 326.9,441.7 325.8,443.1 324.8,444.5 323.8,446.0 322.8,447.4 321.7,448.8 320.7,450.3 319.7,451.7 318.7,453.1 317.7,454.6 316.8,456.0 315.8,457.5 314.8,458.9 313.8,460.4 312.9,461.9 311.9,463.3 310.9,464.8 310.0,466.3 309.0,467.8 308.1,469.2 307.1,470.7 306.2,472.2 305.3,473.7 304.3,475.2 303.4,476.7 302.5,478.2 301.6,479.7 300.7,481.2 299.8,482.7 298.9,484.2 298.0,485.7 297.1,487.2 296.2,488.8 295.3,490.3 294.5,491.8 293.6,493.4 292.7,494.9 291.9,496.4 291.0,498.0 290.2,499.5 289.4,501.0 288.5,502.6 287.7,504.1 286.9,505.7 286.1,507.3 285.3,508.8 284.5,510.4 283.7,512.0 283.0,513.5 282.2,515.1 281.4,516.7 280.7,518.2 279.9,519.8 279.2,521.4 278.5,523.0 277.7,524.6 277.0,526.2 276.3,527.8 275.6,529.4 274.9,531.0 274.2,532.6 273.6,534.2 272.9,535.8 272.2,537.4 271.5,539.0 270.8,540.5 270.1,542.1 269.4,543.8 268.7,545.4 268.1,547.0 267.4,548.6 266.8,550.2 266.2,551.8 265.5,553.4 264.9,555.1 264.4,556.7 263.8,558.4 263.3,560.0 262.8,561.7 262.3,563.3 261.8,565.0 261.3,566.6 260.8,568.3 260.3,570.0 259.9,571.6 259.4,573.3" fill="#0a0a6a"/>
<polygon points="952.8,80.9 951.6,82.3 950.4,83.7 949.2,85.1 948.0,86.5 946.7,87.9 945.5,89.2 944.2,90.6 942.9,92.0 941.7,93.3 940.4,94.7 939.1,96.0 937.8,97.3 936.5,98.6 935.2,99.9 933.9,101.2 932.6,102.5 931.2,103.8 929.9,105.1 928.5,106.4 927.2,107.7 925.9,108.9 924.5,110.2 923.2,111.5 921.8,112.7 920.4,114.0 919.1,115.2 917.7,116.5 916.3,117.7 914.9,118.9 913.5,120.2 912.1,121.4 910.7,122.6 909.3,123.8 907.9,125.0 906.5,126.2 905.1,127.4 903.7,128.6 902.2,129.8 900.8,131.0 899.3,132.1 897.9,133.3 896.4,134.4 894.9,135.5 893.5,136.7 892.0,137.8 890.5,138.9 889.0,140.0 887.5,141.2 886.0,142.3 884.5,143.4 883.0,144.5 881.5,145.6 880.0,146.7 878.5,147.8 877.0,148.9 875.5,149.9 874.0,151.0 872.5,152.1 870.9,153.2 869.4,154.3 867.9,155.3 866.4,156.4 864.8,157.5 863.3,158.5 861.8,159.6 860.2,160.6 858.7,161.7 857.2,162.7 855.6,163.8 854.1,164.8 852.5,165.9 851.0,166.9 849.5,168.0 847.9,169.0 846.4,170.0 844.8,171.1 843.3,172.1 841.7,173.1 840.2,174.2 838.6,175.2 837.1,176.2 835.5,177.3 834.0,178.3 832.5,179.3 830.9,180.4 829.4,181.4 827.8,182.4 826.3,183.5 824.7,184.5 823.2,185.5 821.6,186.5 820.1,187.6 818.5,188.6 817.0,189.6 815.4,190.6 813.9,191.6 812.3,192.6 810.8,193.7 809.2,194.7 807.6,195.7 806.1,196.7 804.5,197.7 803.0,198.7 801.4,199.7 799.9,200.8 798.3,201.8 796.8,202.8 795.2,203.8 793.6,204.8 792.1,205.8 790.5,206.8 789.0,207.8 787.4,208.8 785.8,209.8 784.3,210.8 782.7,211.8 781.2,212.8 779.6,213.8 778.1,214.8 776.5,215.8 774.9,216.8 773.4,217.8 771.8,218.8 770.3,219.8 768.7,220.8 767.2,221.8 765.6,222.8 764.1,223.8 762.5,224.8 760.9,225.9 759.4,226.9 757.8,227.9 756.3,228.9 754.7,229.8 753.1,230.8 751.6,231.8 750.0,232.8 748.5,233.8 746.9,234.8 745.4,235.8 743.8,236.8 742.2,237.8 740.7,238.8 739.1,239.8 737.6,240.8 736.0,241.8 734.4,242.8 732.9,243.8 731.3,244.8 729.8,245.8 728.2,246.8 726.6,247.8 725.1,248.8 723.5,249.8 722.0,250.8 720.4,251.8 718.8,252.7 717.3,253.7 715.7,254.7 714.2,255.7 712.6,256.7 711.0,257.7 709.5,258.7 707.9,259.7 706.3,260.7 704.8,261.7 703.2,262.7 701.7,263.6 700.1,264.6 698.5,265.6 697.0,266.6 695.4,267.6 693.9,268.6 692.3,269.6 690.7,270.6 689.2,271.6 687.6,272.6 686.1,273.6 684.5,274.6 683.0,275.6 681.4,276.6 679.8,277.6 678.3,278.5 676.7,279.5 675.2,280.5 673.6,281.5 672.1,282.5 670.5,283.5 668.9,284.5 667.4,285.5 665.8,286.5 664.3,287.5 662.7,288.5 661.2,289.5 659.6,290.5 658.1,291.5 656.5,292.5 655.0,293.5 653.4,294.5 651.8,295.6 650.3,296.6 648.7,297.6 647.2,298.6 645.6,299.6 644.1,300.6 642.5,301.6 641.0,302.6 639.4,303.6 637.9,304.6 636.4,305.6 634.8,306.6 633.3,307.7 631.7,308.7 630.2,309.7 628.6,310.7 627.1,311.7 625.5,312.7 624.0,313.8 622.4,314.8 620.9,315.8 619.4,316.8 617.8,317.9 616.3,318.9 614.7,319.9 613.2,320.9 611.7,322.0 610.1,323.0 608.6,324.0 607.1,325.1 605.5,326.1 604.0,327.1 602.5,328.2 600.9,329.2 599.4,330.2 597.9,331.3 596.3,332.3 594.8,333.4 593.3,334.4 591.8,335.5 590.2,336.5 588.7,337.6 587.2,338.6 585.7,339.7 584.1,340.7 582.6,341.8 581.1,342.9 579.6,343.9 578.1,345.0 576.5,346.0 575.0,347.1 573.5,348.2 572.0,349.2 570.5,350.3 569.0,351.4 567.4,352.5 565.9,353.5 564.4,354.6 562.9,355.7 561.4,356.8 559.9,357.8 558.4,358.9 556.9,360.0 555.4,361.1 553.9,362.2 552.4,363.2 550.9,364.3 549.4,365.4 547.9,366.5 546.4,367.6 544.9,368.7 543.4,369.8 541.9,370.9 540.4,372.0 538.9,373.1 537.4,374.2 535.9,375.3 534.5,376.4 533.0,377.5 531.5,378.6 530.0,379.7 528.5,380.8 527.0,381.9 525.5,383.0 524.1,384.2 522.6,385.3 521.1,386.4 519.6,387.5 518.2,388.6 516.7,389.7 515.2,390.9 513.7,392.0 512.3,393.1 510.8,394.3 509.3,395.4 507.9,396.5 506.4,397.7 504.9,398.8 503.5,399.9 502.0,401.1 500.6,402.2 499.1,403.4 497.7,404.5 496.2,405.6 494.8,406.8 493.3,407.9 491.9,409.1 490.4,410.3 489.0,411.4 487.5,412.6 486.1,413.7 484.6,414.9 483.2,416.1 481.8,417.2 480.3,418.4 478.9,419.6 477.5,420.7 476.0,421.9 474.6,423.1 473.2,424.3 471.8,425.4 470.3,426.6 468.9,427.8 467.5,429.0 466.1,430.2 464.7,431.4 463.3,432.6 461.8,433.7 460.4,434.9 459.0,436.1 457.6,437.3 456.2,438.5 454.8,439.7 453.4,440.9 452.0,442.2 450.6,443.4 449.2,444.6 447.8,445.8 446.5,447.0 445.1,448.2 443.7,449.4 442.3,450.7 440.9,451.9 439.5,453.1 438.2,454.4 436.8,455.6 435.4,456.8 434.0,458.1 432.7,459.3 431.3,460.5 429.9,461.8 428.6,463.0 427.2,464.3 425.9,465.5 424.5,466.8 423.2,468.0 421.8,469.3 420.5,470.5 419.1,471.8 417.8,473.1 416.4,474.3 415.1,475.6 413.8,476.9 412.4,478.2 411.1,479.4 409.8,480.7 408.5,482.0 407.1,483.3 405.8,484.6 404.5,485.9 403.2,487.2 401.9,488.5 400.6,489.8 399.3,491.1 397.9,492.4 396.6,493.7 395.3,495.0 394.1,496.3 392.8,497.6 391.5,498.9 390.2,500.2 388.9,501.5 387.6,502.9 386.3,504.2 385.0,505.5 383.8,506.8 382.5,508.2 381.2,509.5 380.0,510.8 378.7,512.2 377.4,513.5 376.2,514.9 374.9,516.2 373.7,517.6 372.4,518.9 371.2,520.3 369.9,521.6 368.7,523.0 367.4,524.4 366.2,525.7 365.0,527.1 363.7,528.5 362.5,529.9 361.3,531.2 360.1,532.6 358.8,534.0 357.6,535.4 356.4,536.8 355.2,538.2 354.0,539.6 352.8,540.9 351.6,542.3 350.4,543.8 349.2,545.2 348.0,546.6 346.8,548.0 345.6,549.4 344.5,550.8 343.3,552.2 342.1,553.6 340.9,555.1 339.8,556.5 338.6,557.9 337.4,559.4 336.3,560.8 335.1,562.2 334.0,563.7 332.8,565.1 331.7,566.6 330.5,568.0 329.4,569.5 328.2,570.9 327.1,572.4 326.0,573.9 324.8,575.3 323.7,576.8 322.6,578.3 321.5,579.7 320.4,581.2 319.2,582.7 318.1,584.2 317.0,585.7 315.9,587.2 314.8,588.6 313.7,590.1 312.7,591.6 311.6,593.1 310.5,594.6 309.4,596.2 308.3,597.7 307.3,599.2 306.2,600.7 305.1,602.2 304.1,603.7 303.0,605.3 301.9,606.8 300.9,608.3 299.8,609.8 298.8,611.4 297.7,612.9 296.7,614.5 295.6,616.0 294.6,617.5 293.5,619.1 292.5,620.6 291.5,622.2 290.4,623.7 289.4,625.3 288.4,626.8 287.3,628.4 286.3,629.9 285.3,631.5 284.3,633.1 283.3,634.6 282.2,636.2 281.2,637.8 280.2,639.3 279.2,640.9 278.2,642.4 277.2,644.0 276.2,645.6 275.2,647.1 274.2,648.7 273.1,650.3 272.1,651.8 271.1,653.4 270.1,654.9 269.1,656.5 268.1,658.1 267.1,659.6 266.1,661.2 265.1,662.7 264.1,664.3 263.1,665.8 267.3,668.5 268.3,667.0 269.3,665.4 270.3,663.8 271.3,662.3 272.3,660.7 273.3,659.1 274.3,657.6 275.2,656.0 276.2,654.4 277.2,652.9 278.2,651.3 279.2,649.7 280.2,648.1 281.2,646.6 282.2,645.0 283.2,643.4 284.2,641.8 285.2,640.3 286.2,638.7 287.2,637.1 288.2,635.6 289.1,634.0 290.1,632.4 291.1,630.9 292.2,629.3 293.2,627.7 294.2,626.2 295.2,624.6 296.2,623.1 297.2,621.5 298.2,620.0 299.2,618.4 300.3,616.9 301.3,615.3 302.3,613.8 303.3,612.2 304.4,610.7 305.4,609.2 306.4,607.7 307.5,606.1 308.5,604.6 309.6,603.1 310.7,601.6 311.7,600.1 312.8,598.6 313.8,597.1 314.9,595.6 316.0,594.1 317.1,592.6 318.2,591.1 319.2,589.6 320.3,588.1 321.4,586.6 322.5,585.1 323.6,583.7 324.7,582.2 325.8,580.7 326.9,579.3 328.0,577.8 329.2,576.3 330.3,574.9 331.4,573.4 332.5,572.0 333.7,570.5 334.8,569.1 335.9,567.6 337.1,566.2 338.2,564.7 339.4,563.3 340.5,561.9 341.7,560.4 342.8,559.0 344.0,557.6 345.1,556.2 346.3,554.7 347.5,553.3 348.6,551.9 349.8,550.5 351.0,549.1 352.2,547.7 353.3,546.3 354.5,544.9 355.7,543.5 356.9,542.1 358.1,540.7 359.3,539.3 360.5,537.9 361.7,536.5 362.9,535.1 364.1,533.8 365.3,532.4 366.6,531.0 367.8,529.6 369.0,528.3 370.2,526.9 371.4,525.5 372.7,524.2 373.9,522.8 375.1,521.4 376.4,520.1 377.6,518.7 378.9,517.4 380.1,516.0 381.4,514.7 382.6,513.3 383.9,512.0 385.1,510.7 386.4,509.3 387.6,508.0 388.9,506.7 390.2,505.3 391.4,504.0 392.7,502.7 394.0,501.4 395.3,500.1 396.5,498.7 397.8,497.4 399.1,496.1 400.4,494.8 401.7,493.5 403.0,492.2 404.3,490.9 405.6,489.6 406.9,488.3 408.2,487.0 409.5,485.7 410.8,484.4 412.1,483.1 413.4,481.8 414.7,480.6 416.1,479.3 417.4,478.0 418.7,476.7 420.0,475.5 421.4,474.2 422.7,472.9 424.0,471.7 425.4,470.4 426.7,469.2 428.1,467.9 429.4,466.7 430.8,465.4 432.2,464.2 433.5,463.0 434.9,461.7 436.3,460.5 437.6,459.3 439.0,458.1 440.4,456.8 441.8,455.6 443.1,454.4 444.5,453.2 445.9,452.0 447.3,450.8 448.7,449.5 450.1,448.3 451.5,447.1 452.9,445.9 454.3,444.7 455.7,443.5 457.1,442.3 458.5,441.1 459.9,439.9 461.3,438.8 462.7,437.6 464.1,436.4 465.5,435.2 466.9,434.0 468.3,432.8 469.7,431.7 471.2,430.5 472.6,429.3 474.0,428.1 475.4,427.0 476.9,425.8 478.3,424.6 479.7,423.5 481.2,422.3 482.6,421.1 484.0,420.0 485.5,418.8 486.9,417.7 488.3,416.5 489.8,415.3 491.2,414.2 492.6,413.0 494.1,411.9 495.5,410.7 497.0,409.6 498.4,408.5 499.9,407.3 501.3,406.2 502.8,405.0 504.2,403.9 505.7,402.8 507.2,401.6 508.6,400.5 510.1,399.4 511.5,398.2 513.0,397.1 514.5,396.0 515.9,394.9 517.4,393.7 518.9,392.6 520.3,391.5 521.8,390.4 523.3,389.3 524.8,388.2 526.3,387.1 527.7,385.9 529.2,384.8 530.7,383.7 532.2,382.6 533.7,381.5 535.1,380.4 536.6,379.3 538.1,378.2 539.6,377.1 541.1,376.0 542.6,375.0 544.1,373.9 545.6,372.8 547.1,371.7 548.6,370.6 550.0,369.5 551.5,368.4 553.0,367.3 554.5,366.2 556.0,365.1 557.5,364.0 559.0,363.0 560.5,361.9 562.0,360.8 563.5,359.7 565.0,358.6 566.5,357.6 568.0,356.5 569.5,355.4 571.1,354.4 572.6,353.3 574.1,352.2 575.6,351.1 577.1,350.1 578.6,349.0 580.1,348.0 581.6,346.9 583.2,345.8 584.7,344.8 586.2,343.7 587.7,342.7 589.2,341.6 590.7,340.6 592.3,339.5 593.8,338.5 595.3,337.4 596.8,336.4 598.4,335.3 599.9,334.3 601.4,333.2 602.9,332.2 604.5,331.1 606.0,330.1 607.5,329.1 609.1,328.0 610.6,327.0 612.1,326.0 613.7,324.9 615.2,323.9 616.7,322.9 618.3,321.8 619.8,320.8 621.3,319.8 622.9,318.8 624.4,317.7 625.9,316.7 627.5,315.7 629.0,314.7 630.6,313.7 632.1,312.6 633.6,311.6 635.2,310.6 636.7,309.6 638.3,308.6 639.8,307.6 641.4,306.5 642.9,305.5 644.5,304.5 646.0,303.5 647.5,302.5 649.1,301.5 650.6,300.5 652.2,299.5 653.7,298.5 655.3,297.5 656.8,296.4 658.4,295.4 659.9,294.4 661.5,293.4 663.0,292.4 664.6,291.4 666.1,290.4 667.7,289.4 669.2,288.4 670.8,287.4 672.4,286.4 673.9,285.4 675.5,284.4 677.0,283.4 678.6,282.4 680.1,281.4 681.7,280.5 683.2,279.5 684.8,278.5 686.4,277.5 687.9,276.5 689.5,275.5 691.0,274.5 692.6,273.5 694.2,272.5 695.7,271.5 697.3,270.5 698.8,269.5 700.4,268.5 701.9,267.5 703.5,266.6 705.1,265.6 706.6,264.6 708.2,263.6 709.8,262.6 711.3,261.6 712.9,260.6 714.4,259.6 716.0,258.6 717.6,257.6 719.1,256.6 720.7,255.7 722.2,254.7 723.8,253.7 725.4,252.7 726.9,251.7 728.5,250.7 730.1,249.7 731.6,248.7 733.2,247.7 734.7,246.7 736.3,245.7 737.9,244.8 739.4,243.8 741.0,242.8 742.5,241.8 744.1,240.8 745.7,239.8 747.2,238.8 748.8,237.8 750.4,236.8 751.9,235.8 753.5,234.8 755.0,233.8 756.6,232.8 758.2,231.8 759.7,230.8 761.3,229.8 762.8,228.8 764.4,227.8 766.0,226.8 767.5,225.8 769.1,224.8 770.6,223.8 772.2,222.8 773.8,221.8 775.3,220.8 776.9,219.8 778.4,218.8 780.0,217.8 781.6,216.8 783.1,215.8 784.7,214.8 786.2,213.8 787.8,212.8 789.4,211.8 790.9,210.8 792.5,209.8 794.1,208.8 795.6,207.8 797.2,206.8 798.7,205.8 800.3,204.8 801.9,203.8 803.4,202.8 805.0,201.8 806.5,200.8 808.1,199.8 809.7,198.8 811.2,197.7 812.8,196.7 814.3,195.7 815.9,194.7 817.4,193.7 819.0,192.7 820.6,191.6 822.1,190.6 823.7,189.6 825.2,188.6 826.8,187.6 828.3,186.5 829.9,185.5 831.4,184.5 833.0,183.4 834.5,182.4 836.1,181.4 837.6,180.4 839.2,179.3 840.7,178.3 842.3,177.2 843.8,176.2 845.4,175.2 846.9,174.2 848.5,173.1 850.0,172.1 851.6,171.1 853.2,170.0 854.7,169.0 856.3,168.0 857.8,166.9 859.4,165.9 860.9,164.8 862.5,163.8 864.0,162.7 865.5,161.7 867.1,160.6 868.6,159.6 870.2,158.5 871.7,157.4 873.2,156.4 874.8,155.3 876.3,154.2 877.8,153.1 879.4,152.0 880.9,151.0 882.4,149.9 883.9,148.8 885.4,147.7 886.9,146.6 888.5,145.5 890.0,144.3 891.5,143.2 893.0,142.1 894.5,141.0 895.9,139.9 897.4,138.7 898.9,137.6 900.4,136.4 901.9,135.3 903.4,134.1 904.8,133.0 906.3,131.8 907.8,130.7 909.2,129.5 910.7,128.3 912.1,127.1 913.6,125.9 915.0,124.8 916.5,123.6 917.9,122.4 919.3,121.1 920.8,119.9 922.2,118.7 923.6,117.5 925.0,116.2 926.4,115.0 927.8,113.7 929.2,112.5 930.6,111.2 931.9,109.9 933.3,108.6 934.6,107.3 935.9,106.0 937.3,104.6 938.6,103.3 939.9,102.0 941.2,100.6 942.5,99.3 943.8,97.9 945.1,96.5 946.3,95.1 947.6,93.8 948.9,92.4 950.1,91.0 951.4,89.5 952.6,88.1 953.9,86.7 955.1,85.3 956.3,83.8" fill="#0a0a6a"/>
<polyline points="258.3,600 258.3,671.8 260.5,672.6 264.5,668" fill="none" stroke="#0a0a6a" stroke-width="3.8" stroke-linecap="round" stroke-linejoin="round"/>
<polyline points="948.4,80.2 964.4,73.9 956.2,83.1" fill="none" stroke="#5cf026" stroke-width="3.6" stroke-linecap="round" stroke-linejoin="round"/>
<polyline points="947.8,80.0 962.9,73.4 955.5,82.8" fill="none" stroke="#0a0a6a" stroke-width="3.6" stroke-linecap="round" stroke-linejoin="round"/>
<polygon points="255.5,572.3 255.9,570.6 256.4,568.9 256.8,567.2 257.3,565.5 257.8,563.8 258.2,562.1 258.7,560.4 259.2,558.7 259.7,557.0 260.2,555.3 260.8,553.7 261.4,552.0 262.0,550.3 262.6,548.7 263.2,547.0 263.8,545.4 264.5,543.8 265.1,542.1 265.8,540.5 266.5,538.9 267.2,537.2 267.8,535.6 268.5,534.0 269.2,532.4 269.9,530.7 270.6,529.1 271.3,527.5 272.0,525.9 272.7,524.2 273.4,522.6 274.1,521.0 274.8,519.4 275.6,517.8 276.3,516.2 277.1,514.6 277.8,513.0 278.6,511.4 279.4,509.8 280.2,508.2 280.9,506.6 281.7,505.0 282.5,503.5 283.4,501.9 284.2,500.3 285.0,498.8 285.9,497.2 286.7,495.6 287.6,494.1 288.4,492.5 289.3,491.0 290.2,489.4 291.0,487.9 291.9,486.3 292.8,484.8 293.7,483.3 294.6,481.7 295.5,480.2 296.4,478.7 297.3,477.1 298.2,475.6 299.2,474.1 300.1,472.6 301.0,471.1 302.0,469.6 302.9,468.1 303.8,466.6 304.8,465.1 305.8,463.6 306.7,462.1 307.7,460.6 308.7,459.1 309.6,457.7 310.6,456.2 311.6,454.7 312.6,453.2 313.6,451.8 314.6,450.3 315.6,448.8 316.6,447.4 317.6,445.9 318.6,444.5 319.7,443.0 320.7,441.6 321.7,440.2 322.8,438.7 323.8,437.3 324.9,435.9 325.9,434.5 327.0,433.1 328.1,431.6 329.2,430.2 330.2,428.8 331.3,427.4 332.4,426.0 333.5,424.7 334.6,423.3 335.7,421.9 336.8,420.5 338.0,419.1 339.1,417.8 340.2,416.4 341.3,415.1 342.5,413.7 343.6,412.4 344.8,411.0 345.9,409.7 347.1,408.4 348.3,407.0 349.5,405.7 350.6,404.4 351.8,403.1 353.0,401.8 354.2,400.5 355.4,399.2 356.7,397.9 357.9,396.6 359.1,395.4 360.3,394.1 361.6,392.8 362.8,391.5 364.0,390.3 365.3,389.0 366.5,387.8 367.8,386.5 369.1,385.3 370.3,384.1 371.6,382.9 372.9,381.6 374.2,380.4 375.5,379.2 376.8,378.0 378.1,376.8 379.4,375.6 380.7,374.4 382.0,373.2 383.3,372.0 384.6,370.8 386.0,369.7 387.3,368.5 388.6,367.3 389.9,366.1 391.3,364.9 392.6,363.8 393.9,362.6 395.3,361.5 396.6,360.3 398.0,359.1 399.3,358.0 400.7,356.9 402.1,355.7 403.4,354.6 404.8,353.5 406.2,352.3 407.6,351.2 409.0,350.1 410.3,349.0 411.7,347.9 413.1,346.8 414.5,345.7 415.9,344.6 417.3,343.5 418.7,342.4 420.1,341.3 421.6,340.2 423.0,339.2 424.4,338.1 425.8,337.0 427.2,336.0 428.6,334.9 430.1,333.8 431.5,332.8 432.9,331.7 434.4,330.7 435.8,329.6 437.2,328.6 438.7,327.6 440.1,326.5 441.6,325.5 443.0,324.5 444.5,323.5 445.9,322.4 447.4,321.4 448.8,320.4 450.3,319.4 451.8,318.4 453.2,317.4 454.7,316.4 456.2,315.4 457.7,314.4 459.1,313.5 460.6,312.5 462.1,311.5 463.6,310.5 465.1,309.5 466.5,308.6 468.0,307.6 469.5,306.7 471.0,305.7 472.5,304.7 474.0,303.8 475.5,302.8 477.0,301.9 478.5,300.9 480.0,300.0 481.5,299.1 483.0,298.1 484.6,297.2 486.1,296.3 487.6,295.4 489.1,294.5 490.6,293.6 492.2,292.6 493.7,291.7 495.2,290.8 496.8,289.9 498.3,289.0 499.8,288.2 501.4,287.3 502.9,286.4 504.5,285.5 506.0,284.6 507.6,283.7 509.1,282.8 510.7,282.0 512.2,281.1 513.8,280.2 515.3,279.4 516.9,278.5 518.4,277.6 520.0,276.8 521.5,275.9 523.1,275.1 524.7,274.2 526.2,273.4 527.8,272.5 529.4,271.7 530.9,270.8 532.5,270.0 534.1,269.2 535.7,268.3 537.2,267.5 538.8,266.7 540.4,265.8 542.0,265.0 543.6,264.2 545.1,263.4 546.7,262.5 548.3,261.7 549.9,260.9 551.5,260.1 553.1,259.2 554.6,258.4 556.2,257.6 557.8,256.8 559.4,256.0 561.0,255.2 562.6,254.4 564.2,253.6 565.8,252.8 567.4,252.0 569.0,251.2 570.6,250.4 572.2,249.6 573.8,248.8 575.4,248.0 577.0,247.2 578.6,246.4 580.2,245.6 581.8,244.8 583.4,244.0 585.0,243.2 586.6,242.5 588.3,241.7 589.9,240.9 591.5,240.1 593.1,239.3 594.7,238.6 596.3,237.8 597.9,237.0 599.6,236.2 601.2,235.5 602.8,234.7 604.4,233.9 606.0,233.2 607.6,232.4 609.3,231.6 610.9,230.9 612.5,230.1 614.1,229.3 615.8,228.6 617.4,227.8 619.0,227.1 620.6,226.3 622.3,225.5 623.9,224.8 625.5,224.0 627.1,223.3 628.8,222.5 630.4,221.8 632.0,221.0 633.7,220.3 635.3,219.5 636.9,218.8 638.6,218.0 640.2,217.3 641.8,216.5 643.4,215.8 645.1,215.0 646.7,214.3 648.3,213.5 650.0,212.8 651.6,212.1 653.2,211.3 654.9,210.6 656.5,209.8 658.1,209.1 659.8,208.3 661.4,207.6 663.1,206.9 664.7,206.1 666.3,205.4 668.0,204.6 669.6,203.9 671.2,203.2 672.9,202.4 674.5,201.7 676.1,200.9 677.8,200.2 679.4,199.5 681.0,198.7 682.7,198.0 684.3,197.3 686.0,196.5 687.6,195.8 689.2,195.0 690.9,194.3 692.5,193.6 694.1,192.8 695.8,192.1 697.4,191.4 699.1,190.6 700.7,189.9 702.3,189.2 704.0,188.4 705.6,187.7 707.2,187.0 708.9,186.2 710.5,185.5 712.1,184.8 713.8,184.0 715.4,183.3 717.0,182.6 718.7,181.8 720.3,181.1 721.9,180.4 723.6,179.6 725.2,178.9 726.8,178.2 728.5,177.4 730.1,176.7 731.8,176.0 733.4,175.2 735.0,174.5 736.7,173.8 738.3,173.0 739.9,172.3 741.6,171.6 743.2,170.8 744.8,170.1 746.5,169.4 748.1,168.6 749.7,167.9 751.4,167.2 753.0,166.4 754.6,165.7 756.3,165.0 757.9,164.2 759.5,163.5 761.2,162.8 762.8,162.0 764.4,161.3 766.0,160.5 767.7,159.8 769.3,159.0 770.9,158.3 772.5,157.6 774.2,156.8 775.8,156.1 777.4,155.3 779.1,154.6 780.7,153.8 782.3,153.1 783.9,152.3 785.6,151.6 787.2,150.8 788.8,150.1 790.4,149.4 792.1,148.6 793.7,147.9 795.3,147.1 797.0,146.4 798.6,145.6 800.2,144.9 801.8,144.1 803.5,143.4 805.1,142.6 806.7,141.9 808.3,141.1 810.0,140.4 811.6,139.7 813.2,138.9 814.8,138.2 816.5,137.4 818.1,136.7 819.7,135.9 821.4,135.2 823.0,134.4 824.6,133.7 826.2,132.9 827.9,132.2 829.5,131.4 831.1,130.7 832.7,129.9 834.4,129.2 836.0,128.5 837.6,127.7 839.2,127.0 840.9,126.2 842.5,125.5 844.1,124.7 845.8,124.0 847.4,123.2 849.0,122.5 850.7,121.8 852.3,121.0 853.9,120.3 855.5,119.5 857.2,118.8 858.8,118.1 860.4,117.3 862.1,116.6 863.7,115.8 865.3,115.1 867.0,114.3 868.6,113.6 870.2,112.9 871.9,112.1 873.5,111.4 875.1,110.6 876.7,109.9 878.4,109.1 880.0,108.4 881.6,107.6 883.3,106.9 884.9,106.2 886.5,105.4 888.2,104.7 889.8,103.9 891.4,103.2 893.1,102.4 894.7,101.7 896.3,100.9 898.0,100.2 899.6,99.5 901.2,98.7 902.9,98.0 904.5,97.2 906.1,96.5 907.8,95.7 909.4,95.0 911.0,94.2 912.7,93.5 914.3,92.7 915.9,92.0 917.6,91.2 919.2,90.5 920.8,89.7 922.4,89.0 924.1,88.2 925.7,87.4 927.3,86.6 928.9,85.8 930.5,85.1 932.2,84.3 933.8,83.5 935.4,82.7 937.0,81.9 938.6,81.1 940.3,80.4 941.9,79.6 943.5,78.8 945.1,78.0 946.7,77.2 948.0,79.9 946.4,80.7 944.8,81.6 943.1,82.4 941.5,83.2 939.9,84.0 938.3,84.8 936.7,85.6 935.1,86.4 933.5,87.2 931.9,88.0 930.3,88.8 928.6,89.6 927.0,90.4 925.4,91.2 923.8,92.0 922.2,92.8 920.6,93.5 918.9,94.3 917.3,95.0 915.7,95.8 914.0,96.5 912.4,97.3 910.8,98.1 909.2,98.8 907.5,99.6 905.9,100.3 904.3,101.1 902.7,101.9 901.0,102.6 899.4,103.4 897.8,104.1 896.1,104.9 894.5,105.6 892.9,106.4 891.3,107.2 889.6,107.9 888.0,108.7 886.4,109.4 884.8,110.2 883.1,110.9 881.5,111.7 879.9,112.4 878.2,113.2 876.6,114.0 875.0,114.7 873.4,115.5 871.7,116.2 870.1,117.0 868.5,117.7 866.9,118.5 865.2,119.2 863.6,120.0 862.0,120.7 860.4,121.5 858.7,122.2 857.1,123.0 855.5,123.7 853.9,124.5 852.2,125.3 850.6,126.0 849.0,126.8 847.4,127.5 845.7,128.3 844.1,129.0 842.5,129.8 840.9,130.5 839.2,131.3 837.6,132.0 836.0,132.8 834.3,133.5 832.7,134.3 831.1,135.0 829.5,135.7 827.8,136.5 826.2,137.2 824.6,138.0 823.0,138.7 821.3,139.5 819.7,140.2 818.1,141.0 816.4,141.7 814.8,142.5 813.2,143.2 811.6,144.0 809.9,144.7 808.3,145.5 806.7,146.2 805.1,146.9 803.4,147.7 801.8,148.4 800.2,149.2 798.5,149.9 796.9,150.7 795.3,151.4 793.7,152.2 792.0,152.9 790.4,153.7 788.8,154.4 787.2,155.1 785.5,155.9 783.9,156.6 782.3,157.4 780.7,158.1 779.0,158.9 777.4,159.6 775.8,160.4 774.1,161.1 772.5,161.9 770.9,162.6 769.3,163.3 767.6,164.1 766.0,164.8 764.4,165.6 762.7,166.3 761.1,167.1 759.5,167.8 757.8,168.5 756.2,169.3 754.6,170.0 752.9,170.7 751.3,171.5 749.7,172.2 748.0,172.9 746.4,173.7 744.8,174.4 743.1,175.1 741.5,175.9 739.9,176.6 738.2,177.3 736.6,178.1 735.0,178.8 733.3,179.5 731.7,180.3 730.1,181.0 728.4,181.7 726.8,182.5 725.2,183.2 723.5,183.9 721.9,184.7 720.3,185.4 718.6,186.1 717.0,186.9 715.4,187.6 713.7,188.3 712.1,189.1 710.5,189.8 708.8,190.5 707.2,191.3 705.6,192.0 703.9,192.7 702.3,193.5 700.6,194.2 699.0,194.9 697.4,195.7 695.7,196.4 694.1,197.1 692.5,197.9 690.8,198.6 689.2,199.3 687.6,200.1 685.9,200.8 684.3,201.5 682.6,202.3 681.0,203.0 679.4,203.8 677.7,204.5 676.1,205.3 674.5,206.0 672.8,206.7 671.2,207.5 669.6,208.2 667.9,209.0 666.3,209.7 664.7,210.5 663.0,211.2 661.4,212.0 659.8,212.7 658.1,213.4 656.5,214.2 654.9,214.9 653.2,215.7 651.6,216.4 650.0,217.2 648.4,217.9 646.7,218.7 645.1,219.4 643.5,220.2 641.8,220.9 640.2,221.7 638.6,222.4 637.0,223.2 635.3,223.9 633.7,224.7 632.1,225.4 630.5,226.2 628.8,227.0 627.2,227.7 625.6,228.5 624.0,229.2 622.3,230.0 620.7,230.7 619.1,231.5 617.5,232.3 615.9,233.0 614.2,233.8 612.6,234.6 611.0,235.3 609.4,236.1 607.8,236.9 606.2,237.6 604.5,238.4 602.9,239.2 601.3,239.9 599.7,240.7 598.1,241.5 596.4,242.2 594.8,243.0 593.2,243.7 591.6,244.5 590.0,245.3 588.4,246.1 586.8,246.8 585.2,247.6 583.5,248.4 581.9,249.1 580.3,249.9 578.7,250.7 577.1,251.5 575.5,252.3 573.9,253.1 572.3,253.8 570.7,254.6 569.1,255.4 567.5,256.2 565.9,257.0 564.3,257.8 562.7,258.6 561.1,259.4 559.5,260.2 558.0,261.0 556.4,261.8 554.8,262.6 553.2,263.4 551.6,264.2 550.0,265.0 548.4,265.8 546.9,266.7 545.3,267.5 543.7,268.3 542.1,269.1 540.6,270.0 539.0,270.8 537.4,271.6 535.9,272.5 534.3,273.3 532.7,274.2 531.2,275.0 529.6,275.8 528.0,276.7 526.5,277.6 524.9,278.4 523.4,279.3 521.8,280.1 520.3,281.0 518.7,281.9 517.2,282.7 515.6,283.6 514.1,284.5 512.6,285.3 511.0,286.2 509.5,287.1 507.9,288.0 506.4,288.9 504.9,289.8 503.3,290.6 501.8,291.5 500.3,292.4 498.8,293.3 497.2,294.2 495.7,295.1 494.2,296.0 492.7,297.0 491.2,297.9 489.7,298.8 488.1,299.7 486.6,300.6 485.1,301.5 483.6,302.5 482.1,303.4 480.6,304.3 479.1,305.3 477.6,306.2 476.1,307.2 474.6,308.1 473.2,309.1 471.7,310.0 470.2,311.0 468.7,311.9 467.2,312.9 465.7,313.9 464.3,314.8 462.8,315.8 461.3,316.8 459.9,317.8 458.4,318.8 456.9,319.7 455.5,320.7 454.0,321.7 452.6,322.7 451.1,323.7 449.7,324.7 448.2,325.7 446.8,326.8 445.3,327.8 443.9,328.8 442.4,329.8 441.0,330.8 439.6,331.9 438.1,332.9 436.7,333.9 435.3,335.0 433.9,336.0 432.4,337.1 431.0,338.1 429.6,339.2 428.2,340.2 426.8,341.3 425.4,342.4 424.0,343.4 422.6,344.5 421.2,345.6 419.8,346.6 418.4,347.7 417.0,348.8 415.6,349.9 414.2,351.0 412.8,352.1 411.4,353.2 410.1,354.3 408.7,355.4 407.3,356.5 405.9,357.6 404.6,358.8 403.2,359.9 401.9,361.0 400.5,362.2 399.2,363.3 397.8,364.4 396.5,365.6 395.2,366.7 393.8,367.9 392.5,369.1 391.2,370.2 389.9,371.4 388.6,372.6 387.3,373.7 385.9,374.9 384.6,376.1 383.3,377.3 382.0,378.4 380.7,379.6 379.4,380.8 378.1,382.0 376.9,383.2 375.6,384.4 374.3,385.6 373.0,386.8 371.8,388.1 370.5,389.3 369.3,390.5 368.0,391.7 366.8,393.0 365.6,394.2 364.3,395.5 363.1,396.7 361.9,398.0 360.7,399.2 359.5,400.5 358.3,401.8 357.1,403.1 355.9,404.4 354.7,405.6 353.5,406.9 352.3,408.2 351.1,409.5 350.0,410.9 348.8,412.2 347.7,413.5 346.5,414.8 345.4,416.1 344.2,417.5 343.1,418.8 342.0,420.2 340.9,421.5 339.8,422.9 338.7,424.3 337.6,425.6 336.5,427.0 335.4,428.4 334.3,429.8 333.2,431.1 332.1,432.5 331.1,433.9 330.0,435.3 329.0,436.7 327.9,438.1 326.9,439.5 325.8,440.9 324.8,442.4 323.7,443.8 322.7,445.2 321.7,446.6 320.7,448.1 319.7,449.5 318.7,451.0 317.7,452.4 316.7,453.9 315.7,455.3 314.7,456.8 313.7,458.2 312.7,459.7 311.8,461.2 310.8,462.6 309.8,464.1 308.9,465.6 307.9,467.1 307.0,468.5 306.0,470.0 305.1,471.5 304.1,473.0 303.2,474.5 302.3,476.0 301.4,477.5 300.5,479.0 299.5,480.5 298.6,482.0 297.7,483.6 296.9,485.1 296.0,486.6 295.1,488.1 294.2,489.7 293.3,491.2 292.5,492.7 291.6,494.3 290.8,495.8 289.9,497.3 289.1,498.9 288.2,500.4 287.4,502.0 286.6,503.6 285.8,505.1 284.9,506.7 284.2,508.2 283.4,509.8 282.6,511.4 281.8,513.0 281.1,514.5 280.3,516.1 279.5,517.7 278.8,519.3 278.1,520.9 277.3,522.5 276.6,524.1 275.9,525.7 275.2,527.3 274.5,528.9 273.8,530.5 273.1,532.1 272.5,533.7 271.8,535.3 271.1,536.9 270.4,538.5 269.7,540.1 269.0,541.7 268.4,543.4 267.7,545.0 267.1,546.6 266.4,548.2 265.8,549.8 265.2,551.5 264.6,553.1 264.0,554.7 263.5,556.4 262.9,558.1 262.4,559.7 261.9,561.4 261.4,563.1 260.9,564.7 260.4,566.4 260.0,568.1 259.5,569.7 259.1,571.4 258.6,573.1" fill="#5ef7f8"/>
<polygon points="952.8,80.9 951.6,82.3 950.4,83.7 949.2,85.1 948.0,86.5 946.7,87.9 945.5,89.2 944.2,90.6 942.9,92.0 941.7,93.3 940.4,94.7 939.1,96.0 937.8,97.3 936.5,98.6 935.2,99.9 933.9,101.2 932.6,102.5 931.2,103.8 929.9,105.1 928.5,106.4 927.2,107.7 925.9,108.9 924.5,110.2 923.2,111.5 921.8,112.7 920.4,114.0 919.1,115.2 917.7,116.5 916.3,117.7 914.9,118.9 913.5,120.2 912.1,121.4 910.7,122.6 909.3,123.8 907.9,125.0 906.5,126.2 905.1,127.4 903.7,128.6 902.2,129.8 900.8,131.0 899.3,132.1 897.9,133.3 896.4,134.4 894.9,135.5 893.5,136.7 892.0,137.8 890.5,138.9 889.0,140.0 887.5,141.2 886.0,142.3 884.5,143.4 883.0,144.5 881.5,145.6 880.0,146.7 878.5,147.8 877.0,148.9 875.5,149.9 874.0,151.0 872.5,152.1 870.9,153.2 869.4,154.3 867.9,155.3 866.4,156.4 864.8,157.5 863.3,158.5 861.8,159.6 860.2,160.6 858.7,161.7 857.2,162.7 855.6,163.8 854.1,164.8 852.5,165.9 851.0,166.9 849.5,168.0 847.9,169.0 846.4,170.0 844.8,171.1 843.3,172.1 841.7,173.1 840.2,174.2 838.6,175.2 837.1,176.2 835.5,177.3 834.0,178.3 832.5,179.3 830.9,180.4 829.4,181.4 827.8,182.4 826.3,183.5 824.7,184.5 823.2,185.5 821.6,186.5 820.1,187.6 818.5,188.6 817.0,189.6 815.4,190.6 813.9,191.6 812.3,192.6 810.8,193.7 809.2,194.7 807.6,195.7 806.1,196.7 804.5,197.7 803.0,198.7 801.4,199.7 799.9,200.8 798.3,201.8 796.8,202.8 795.2,203.8 793.6,204.8 792.1,205.8 790.5,206.8 789.0,207.8 787.4,208.8 785.8,209.8 784.3,210.8 782.7,211.8 781.2,212.8 779.6,213.8 778.1,214.8 776.5,215.8 774.9,216.8 773.4,217.8 771.8,218.8 770.3,219.8 768.7,220.8 767.2,221.8 765.6,222.8 764.1,223.8 762.5,224.8 760.9,225.9 759.4,226.9 757.8,227.9 756.3,228.9 754.7,229.8 753.1,230.8 751.6,231.8 750.0,232.8 748.5,233.8 746.9,234.8 745.4,235.8 743.8,236.8 742.2,237.8 740.7,238.8 739.1,239.8 737.6,240.8 736.0,241.8 734.4,242.8 732.9,243.8 731.3,244.8 729.8,245.8 728.2,246.8 726.6,247.8 725.1,248.8 723.5,249.8 722.0,250.8 720.4,251.8 718.8,252.7 717.3,253.7 715.7,254.7 714.2,255.7 712.6,256.7 711.0,257.7 709.5,258.7 707.9,259.7 706.3,260.7 704.8,261.7 703.2,262.7 701.7,263.6 700.1,264.6 698.5,265.6 697.0,266.6 695.4,267.6 693.9,268.6 692.3,269.6 690.7,270.6 689.2,271.6 687.6,272.6 686.1,273.6 684.5,274.6 683.0,275.6 681.4,276.6 679.8,277.6 678.3,278.5 676.7,279.5 675.2,280.5 673.6,281.5 672.1,282.5 670.5,283.5 668.9,284.5 667.4,285.5 665.8,286.5 664.3,287.5 662.7,288.5 661.2,289.5 659.6,290.5 658.1,291.5 656.5,292.5 655.0,293.5 653.4,294.5 651.8,295.6 650.3,296.6 648.7,297.6 647.2,298.6 645.6,299.6 644.1,300.6 642.5,301.6 641.0,302.6 639.4,303.6 637.9,304.6 636.4,305.6 634.8,306.6 633.3,307.7 631.7,308.7 630.2,309.7 628.6,310.7 627.1,311.7 625.5,312.7 624.0,313.8 622.4,314.8 620.9,315.8 619.4,316.8 617.8,317.9 616.3,318.9 614.7,319.9 613.2,320.9 611.7,322.0 610.1,323.0 608.6,324.0 607.1,325.1 605.5,326.1 604.0,327.1 602.5,328.2 600.9,329.2 599.4,330.2 597.9,331.3 596.3,332.3 594.8,333.4 593.3,334.4 591.8,335.5 590.2,336.5 588.7,337.6 587.2,338.6 585.7,339.7 584.1,340.7 582.6,341.8 581.1,342.9 579.6,343.9 578.1,345.0 576.5,346.0 575.0,347.1 573.5,348.2 572.0,349.2 570.5,350.3 569.0,351.4 567.4,352.5 565.9,353.5 564.4,354.6 562.9,355.7 561.4,356.8 559.9,357.8 558.4,358.9 556.9,360.0 555.4,361.1 553.9,362.2 552.4,363.2 550.9,364.3 549.4,365.4 547.9,366.5 546.4,367.6 544.9,368.7 543.4,369.8 541.9,370.9 540.4,372.0 538.9,373.1 537.4,374.2 535.9,375.3 534.5,376.4 533.0,377.5 531.5,378.6 530.0,379.7 528.5,380.8 527.0,381.9 525.5,383.0 524.1,384.2 522.6,385.3 521.1,386.4 519.6,387.5 518.2,388.6 516.7,389.7 515.2,390.9 513.7,392.0 512.3,393.1 510.8,394.3 509.3,395.4 507.9,396.5 506.4,397.7 504.9,398.8 503.5,399.9 502.0,401.1 500.6,402.2 499.1,403.4 497.7,404.5 496.2,405.6 494.8,406.8 493.3,407.9 491.9,409.1 490.4,410.3 489.0,411.4 487.5,412.6 486.1,413.7 484.6,414.9 483.2,416.1 481.8,417.2 480.3,418.4 478.9,419.6 477.5,420.7 476.0,421.9 474.6,423.1 473.2,424.3 471.8,425.4 470.3,426.6 468.9,427.8 467.5,429.0 466.1,430.2 464.7,431.4 463.3,432.6 461.8,433.7 460.4,434.9 459.0,436.1 457.6,437.3 456.2,438.5 454.8,439.7 453.4,440.9 452.0,442.2 450.6,443.4 449.2,444.6 447.8,445.8 446.5,447.0 445.1,448.2 443.7,449.4 442.3,450.7 440.9,451.9 439.5,453.1 438.2,454.4 436.8,455.6 435.4,456.8 434.0,458.1 432.7,459.3 431.3,460.5 429.9,461.8 428.6,463.0 427.2,464.3 425.9,465.5 424.5,466.8 423.2,468.0 421.8,469.3 420.5,470.5 419.1,471.8 417.8,473.1 416.4,474.3 415.1,475.6 413.8,476.9 412.4,478.2 411.1,479.4 409.8,480.7 408.5,482.0 407.1,483.3 405.8,484.6 404.5,485.9 403.2,487.2 401.9,488.5 400.6,489.8 399.3,491.1 397.9,492.4 396.6,493.7 395.3,495.0 394.1,496.3 392.8,497.6 391.5,498.9 390.2,500.2 388.9,501.5 387.6,502.9 386.3,504.2 385.0,505.5 383.8,506.8 382.5,508.2 381.2,509.5 380.0,510.8 378.7,512.2 377.4,513.5 376.2,514.9 374.9,516.2 373.7,517.6 372.4,518.9 371.2,520.3 369.9,521.6 368.7,523.0 367.4,524.4 366.2,525.7 365.0,527.1 363.7,528.5 362.5,529.9 361.3,531.2 360.1,532.6 358.8,534.0 357.6,535.4 356.4,536.8 355.2,538.2 354.0,539.6 352.8,540.9 351.6,542.3 350.4,543.8 349.2,545.2 348.0,546.6 346.8,548.0 345.6,549.4 344.5,550.8 343.3,552.2 342.1,553.6 340.9,555.1 339.8,556.5 338.6,557.9 337.4,559.4 336.3,560.8 335.1,562.2 334.0,563.7 332.8,565.1 331.7,566.6 330.5,568.0 329.4,569.5 328.2,570.9 327.1,572.4 326.0,573.9 324.8,575.3 323.7,576.8 322.6,578.3 321.5,579.7 320.4,581.2 319.2,582.7 318.1,584.2 317.0,585.7 315.9,587.2 314.8,588.6 313.7,590.1 312.7,591.6 311.6,593.1 310.5,594.6 309.4,596.2 308.3,597.7 307.3,599.2 306.2,600.7 305.1,602.2 304.1,603.7 303.0,605.3 301.9,606.8 300.9,608.3 299.8,609.8 298.8,611.4 297.7,612.9 296.7,614.5 295.6,616.0 294.6,617.5 293.5,619.1 292.5,620.6 291.5,622.2 290.4,623.7 289.4,625.3 288.4,626.8 287.3,628.4 286.3,629.9 285.3,631.5 284.3,633.1 283.3,634.6 282.2,636.2 281.2,637.8 280.2,639.3 279.2,640.9 278.2,642.4 277.2,644.0 276.2,645.6 275.2,647.1 274.2,648.7 273.1,650.3 272.1,651.8 271.1,653.4 270.1,654.9 269.1,656.5 268.1,658.1 267.1,659.6 266.1,661.2 265.1,662.7 264.1,664.3 263.1,665.8 267.2,668.5 268.2,666.9 269.2,665.4 270.2,663.8 271.2,662.2 272.2,660.7 273.2,659.1 274.2,657.5 275.2,655.9 276.2,654.4 277.1,652.8 278.1,651.2 279.1,649.7 280.1,648.1 281.1,646.5 282.1,644.9 283.1,643.4 284.1,641.8 285.1,640.2 286.1,638.7 287.1,637.1 288.1,635.5 289.1,633.9 290.1,632.4 291.1,630.8 292.1,629.2 293.1,627.7 294.1,626.1 295.1,624.6 296.1,623.0 297.1,621.5 298.1,619.9 299.1,618.4 300.2,616.8 301.2,615.3 302.2,613.7 303.2,612.2 304.3,610.7 305.3,609.1 306.4,607.6 307.4,606.1 308.5,604.6 309.5,603.0 310.6,601.5 311.6,600.0 312.7,598.5 313.8,597.0 314.8,595.5 315.9,594.0 317.0,592.5 318.1,591.0 319.2,589.5 320.3,588.0 321.3,586.6 322.4,585.1 323.5,583.6 324.6,582.1 325.7,580.7 326.9,579.2 328.0,577.7 329.1,576.3 330.2,574.8 331.3,573.3 332.5,571.9 333.6,570.4 334.7,569.0 335.9,567.5 337.0,566.1 338.1,564.7 339.3,563.2 340.4,561.8 341.6,560.4 342.7,558.9 343.9,557.5 345.1,556.1 346.2,554.7 347.4,553.2 348.6,551.8 349.7,550.4 350.9,549.0 352.1,547.6 353.3,546.2 354.5,544.8 355.6,543.4 356.8,542.0 358.0,540.6 359.2,539.2 360.4,537.8 361.6,536.4 362.8,535.1 364.1,533.7 365.3,532.3 366.5,530.9 367.7,529.6 368.9,528.2 370.2,526.8 371.4,525.5 372.6,524.1 373.8,522.7 375.1,521.4 376.3,520.0 377.6,518.7 378.8,517.3 380.1,516.0 381.3,514.6 382.6,513.3 383.8,512.0 385.1,510.6 386.3,509.3 387.6,508.0 388.9,506.6 390.1,505.3 391.4,504.0 392.7,502.7 394.0,501.3 395.2,500.0 396.5,498.7 397.8,497.4 399.1,496.1 400.4,494.8 401.7,493.5 403.0,492.2 404.3,490.9 405.6,489.6 406.9,488.3 408.2,487.0 409.5,485.7 410.8,484.4 412.1,483.1 413.4,481.8 414.7,480.6 416.1,479.3 417.4,478.0 418.7,476.7 420.0,475.5 421.4,474.2 422.7,472.9 424.0,471.7 425.4,470.4 426.7,469.2 428.1,467.9 429.4,466.7 430.8,465.4 432.2,464.2 433.5,463.0 434.9,461.7 436.3,460.5 437.6,459.3 439.0,458.0 440.4,456.8 441.7,455.6 443.1,454.4 444.5,453.2 445.9,451.9 447.3,450.7 448.7,449.5 450.0,448.3 451.4,447.1 452.8,445.9 454.2,444.7 455.6,443.5 457.0,442.3 458.4,441.1 459.8,439.9 461.2,438.7 462.6,437.5 464.0,436.3 465.5,435.1 466.9,434.0 468.3,432.8 469.7,431.6 471.1,430.4 472.5,429.2 474.0,428.1 475.4,426.9 476.8,425.7 478.2,424.6 479.7,423.4 481.1,422.2 482.5,421.1 484.0,419.9 485.4,418.7 486.8,417.6 488.3,416.4 489.7,415.3 491.1,414.1 492.6,413.0 494.0,411.8 495.5,410.6 496.9,409.5 498.4,408.4 499.8,407.2 501.3,406.1 502.7,404.9 504.2,403.8 505.6,402.7 507.1,401.5 508.5,400.4 510.0,399.3 511.5,398.1 512.9,397.0 514.4,395.9 515.8,394.7 517.3,393.6 518.8,392.5 520.3,391.4 521.7,390.3 523.2,389.1 524.7,388.0 526.1,386.9 527.6,385.8 529.1,384.7 530.6,383.6 532.1,382.5 533.5,381.4 535.0,380.3 536.5,379.2 538.0,378.1 539.5,377.0 541.0,375.9 542.5,374.8 544.0,373.7 545.5,372.6 546.9,371.5 548.4,370.4 549.9,369.3 551.4,368.2 552.9,367.1 554.4,366.1 555.9,365.0 557.4,363.9 558.9,362.8 560.4,361.7 561.9,360.6 563.4,359.6 564.9,358.5 566.4,357.4 567.9,356.3 569.4,355.3 571.0,354.2 572.5,353.1 574.0,352.1 575.5,351.0 577.0,349.9 578.5,348.9 580.0,347.8 581.5,346.8 583.1,345.7 584.6,344.6 586.1,343.6 587.6,342.5 589.1,341.5 590.7,340.4 592.2,339.4 593.7,338.3 595.2,337.3 596.8,336.2 598.3,335.2 599.8,334.1 601.3,333.1 602.9,332.1 604.4,331.0 605.9,330.0 607.4,328.9 609.0,327.9 610.5,326.9 612.0,325.8 613.6,324.8 615.1,323.8 616.6,322.7 618.2,321.7 619.7,320.7 621.2,319.6 622.8,318.6 624.3,317.6 625.8,316.6 627.4,315.5 628.9,314.5 630.5,313.5 632.0,312.5 633.5,311.4 635.1,310.4 636.6,309.4 638.2,308.4 639.7,307.4 641.2,306.4 642.8,305.3 644.3,304.3 645.9,303.3 647.4,302.3 649.0,301.3 650.5,300.3 652.1,299.3 653.6,298.3 655.2,297.3 656.7,296.2 658.2,295.2 659.8,294.2 661.3,293.2 662.9,292.2 664.5,291.2 666.0,290.2 667.6,289.2 669.1,288.2 670.7,287.2 672.2,286.2 673.8,285.2 675.3,284.2 676.9,283.2 678.4,282.2 680.0,281.2 681.6,280.2 683.1,279.2 684.7,278.3 686.2,277.3 687.8,276.3 689.3,275.3 690.9,274.3 692.5,273.3 694.0,272.3 695.6,271.3 697.1,270.3 698.7,269.3 700.3,268.3 701.8,267.3 703.4,266.3 704.9,265.3 706.5,264.4 708.1,263.4 709.6,262.4 711.2,261.4 712.7,260.4 714.3,259.4 715.9,258.4 717.4,257.4 719.0,256.4 720.5,255.4 722.1,254.5 723.7,253.5 725.2,252.5 726.8,251.5 728.4,250.5 729.9,249.5 731.5,248.5 733.0,247.5 734.6,246.5 736.2,245.5 737.7,244.5 739.3,243.5 740.9,242.6 742.4,241.6 744.0,240.6 745.5,239.6 747.1,238.6 748.7,237.6 750.2,236.6 751.8,235.6 753.3,234.6 754.9,233.6 756.5,232.6 758.0,231.6 759.6,230.6 761.2,229.6 762.7,228.6 764.3,227.6 765.8,226.6 767.4,225.6 769.0,224.6 770.5,223.6 772.1,222.6 773.6,221.6 775.2,220.6 776.8,219.6 778.3,218.6 779.9,217.6 781.4,216.6 783.0,215.6 784.5,214.6 786.1,213.6 787.7,212.6 789.2,211.6 790.8,210.6 792.3,209.6 793.9,208.6 795.5,207.6 797.0,206.6 798.6,205.5 800.1,204.5 801.7,203.5 803.2,202.5 804.8,201.5 806.4,200.5 807.9,199.5 809.5,198.4 811.0,197.4 812.6,196.4 814.1,195.4 815.7,194.4 817.2,193.3 818.8,192.3 820.3,191.3 821.9,190.3 823.4,189.3 825.0,188.2 826.5,187.2 828.1,186.2 829.6,185.1 831.2,184.1 832.7,183.1 834.3,182.0 835.8,181.0 837.4,180.0 838.9,178.9 840.4,177.9 842.0,176.8 843.5,175.8 845.1,174.8 846.6,173.7 848.2,172.7 849.7,171.7 851.3,170.6 852.8,169.6 854.4,168.5 855.9,167.5 857.5,166.4 859.0,165.4 860.6,164.3 862.1,163.3 863.7,162.2 865.2,161.2 866.7,160.1 868.3,159.0 869.8,158.0 871.3,156.9 872.9,155.8 874.4,154.8 875.9,153.7 877.4,152.6 879.0,151.5 880.5,150.4 882.0,149.3 883.5,148.2 885.0,147.1 886.5,146.0 888.0,144.9 889.5,143.8 891.0,142.6 892.5,141.5 894.0,140.4 895.5,139.3 897.0,138.1 898.4,137.0 899.9,135.8 901.4,134.7 902.9,133.5 904.3,132.4 905.8,131.2 907.2,130.0 908.7,128.9 910.2,127.7 911.6,126.5 913.0,125.3 914.5,124.1 915.9,122.9 917.3,121.7 918.8,120.5 920.2,119.3 921.6,118.1 923.0,116.8 924.4,115.6 925.8,114.3 927.2,113.1 928.6,111.8 930.0,110.6 931.3,109.3 932.7,108.0 934.0,106.7 935.3,105.4 936.7,104.0 938.0,102.7 939.3,101.4 940.6,100.0 941.9,98.7 943.2,97.3 944.5,96.0 945.8,94.6 947.1,93.2 948.3,91.8 949.6,90.5 950.8,89.1 952.1,87.6 953.3,86.2 954.5,84.8 955.8,83.4" fill="#5ef7f8"/>
<polyline points="947.4,78.6 962.2,72.2 954.3,82.1" fill="none" stroke="#5ef7f8" stroke-width="3.6" stroke-linecap="round" stroke-linejoin="round"/>
<polyline points="258,569.5 258,671.4 260.1,672 264.9,666.8 268,662" fill="none" stroke="#5ef7f8" stroke-width="3.9" stroke-linecap="round" stroke-linejoin="round"/>
<g stroke="#000" stroke-width="2.8" fill="none" stroke-linecap="butt">
<path d="M152.1,13.5 H1049.1"/>
<path d="M152.1,722.6 H1049.1"/>
<path d="M167.6,12.0 V738.1"/>
<path d="M1047.6,12.0 V730.6"/>
</g>
<g stroke="#000" stroke-width="2.6" stroke-linecap="butt">
<path d="M152.1,92.29 H167.6"/>
<path d="M152.1,171.08 H167.6"/>
<path d="M152.1,249.87 H167.6"/>
<path d="M152.1,328.66 H167.6"/>
<path d="M152.1,407.44 H167.6"/>
<path d="M152.1,486.23 H167.6"/>
<path d="M152.1,565.02 H167.6"/>
<path d="M152.1,643.81 H167.6"/>
<path d="M159.1,52.89 H167.6"/>
<path d="M159.1,131.68 H167.6"/>
<path d="M159.1,210.47 H167.6"/>
<path d="M159.1,289.26 H167.6"/>
<path d="M159.1,368.05 H167.6"/>
<path d="M159.1,446.84 H167.6"/>
<path d="M159.1,525.63 H167.6"/>
<path d="M159.1,604.42 H167.6"/>
<path d="M159.1,683.21 H167.6"/>
<path d="M251.41,722.6 V738.1"/>
<path d="M335.22,722.6 V738.1"/>
<path d="M419.03,722.6 V738.1"/>
<path d="M502.84,722.6 V738.1"/>
<path d="M586.65,722.6 V738.1"/>
<path d="M670.46,722.6 V738.1"/>
<path d="M754.27,722.6 V738.1"/>
<path d="M838.08,722.6 V738.1"/>
<path d="M921.89,722.6 V738.1"/>
<path d="M1005.70,722.6 V738.1"/>
<path d="M209.50,722.6 V730.6"/>
<path d="M293.31,722.6 V730.6"/>
<path d="M377.12,722.6 V730.6"/>
<path d="M460.93,722.6 V730.6"/>
<path d="M544.74,722.6 V730.6"/>
<path d="M628.55,722.6 V730.6"/>
<path d="M712.36,722.6 V730.6"/>
<path d="M796.17,722.6 V730.6"/>
<path d="M879.98,722.6 V730.6"/>
<path d="M963.79,722.6 V730.6"/>
</g>
<g font-family="'Liberation Sans', sans-serif" font-size="28" fill="#000">
<text transform="translate(143.4,21.1) scale(1,1.065)" text-anchor="end">0.35</text>
<text transform="translate(143.4,99.9) scale(1,1.065)" text-anchor="end">0.30</text>
<text transform="translate(143.4,178.7) scale(1,1.065)" text-anchor="end">0.25</text>
<text transform="translate(143.4,257.5) scale(1,1.065)" text-anchor="end">0.20</text>
<text transform="translate(143.4,336.3) scale(1,1.065)" text-anchor="end">0.15</text>
<text transform="translate(143.4,415.0) scale(1,1.065)" text-anchor="end">0.10</text>
<text transform="translate(143.4,493.8) scale(1,1.065)" text-anchor="end">0.05</text>
<text transform="translate(143.4,572.6) scale(1,1.065)" text-anchor="end">0.00</text>
<text transform="translate(143.4,651.4) scale(1,1.065)" text-anchor="end">-0.05</text>
<text transform="translate(143.4,730.2) scale(1,1.065)" text-anchor="end">-0.10</text>
<text transform="translate(166.8,767.6) scale(1,1.065)" text-anchor="middle">-20</text>
<text transform="translate(250.6,767.6) scale(1,1.065)" text-anchor="middle">0</text>
<text transform="translate(334.4,767.6) scale(1,1.065)" text-anchor="middle">20</text>
<text transform="translate(418.2,767.6) scale(1,1.065)" text-anchor="middle">40</text>
<text transform="translate(502.0,767.6) scale(1,1.065)" text-anchor="middle">60</text>
<text transform="translate(585.8,767.6) scale(1,1.065)" text-anchor="middle">80</text>
<text transform="translate(669.7,767.6) scale(1,1.065)" text-anchor="middle">100</text>
<text transform="translate(753.5,767.6) scale(1,1.065)" text-anchor="middle">120</text>
<text transform="translate(837.3,767.6) scale(1,1.065)" text-anchor="middle">140</text>
<text transform="translate(921.1,767.6) scale(1,1.065)" text-anchor="middle">160</text>
<text transform="translate(1004.9,767.6) scale(1,1.065)" text-anchor="middle">180</text>
</g>
<g font-family="'Liberation Sans', sans-serif" font-weight="bold" fill="#000">
<text transform="translate(607.8,823.9) scale(1,1.045)" font-size="33.4" text-anchor="middle">Strain (%)</text>
<text transform="translate(26.6,369.9) rotate(-90) scale(1,1.045)" font-size="34.2" text-anchor="middle">Stress (MPa)</text>
<text transform="translate(825.6,416.3) scale(1,1.04)" font-size="33.2">Cycle 1</text>
<text transform="translate(825.6,458.7) scale(1,1.04)" font-size="33.2">Cycle 2</text>
<text transform="translate(825.6,501.0) scale(1,1.04)" font-size="33.2">Cycle 3</text>
<text transform="translate(825.6,543.4) scale(1,1.04)" font-size="33.2">Cycle 4</text>
<text transform="translate(825.6,585.7) scale(1,1.04)" font-size="33.2">Cycle 5</text>
</g>
<path d="M740.4,404.7 H816.4" stroke="#000000" stroke-width="4.0" stroke-linecap="round" fill="none"/>
<path d="M740.4,447.1 H816.4" stroke="#e3141c" stroke-width="4.0" stroke-linecap="round" fill="none"/>
<path d="M740.4,489.5 H816.4" stroke="#5cf026" stroke-width="4.0" stroke-linecap="round" fill="none"/>
<path d="M740.4,531.9 H816.4" stroke="#0a0a6a" stroke-width="4.0" stroke-linecap="round" fill="none"/>
<path d="M740.4,574.3 H816.4" stroke="#5ef7f8" stroke-width="4.0" stroke-linecap="round" fill="none"/>
</svg>
</body></html>
